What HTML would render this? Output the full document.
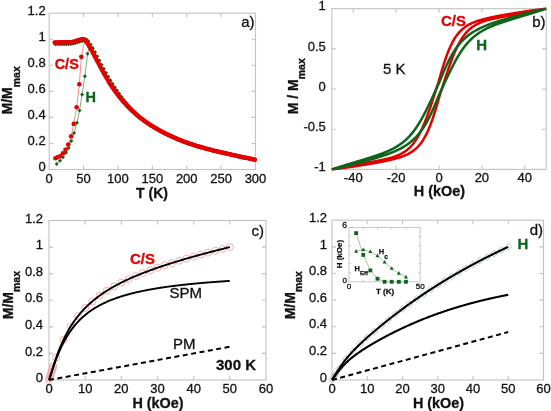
<!DOCTYPE html>
<html><head><meta charset="utf-8"><style>
html,body{margin:0;padding:0;background:#fff;}
svg{display:block;font-family:"Liberation Sans", sans-serif;will-change:transform;}
</style></head><body>
<svg width="551" height="411" viewBox="0 0 551 411">
<rect x="49.20" y="13.20" width="206.30" height="156.30" fill="none" stroke="#c2c2c2" stroke-width="1.1"/>
<path d="M83.58,169.50v-4M83.58,13.20v4M117.97,169.50v-4M117.97,13.20v4M152.35,169.50v-4M152.35,13.20v4M186.73,169.50v-4M186.73,13.20v4M221.12,169.50v-4M221.12,13.20v4M49.20,143.45h4M255.50,143.45h-4M49.20,117.40h4M255.50,117.40h-4M49.20,91.35h4M255.50,91.35h-4M49.20,65.30h4M255.50,65.30h-4M49.20,39.25h4M255.50,39.25h-4" stroke="#c2c2c2" stroke-width="1.1" fill="none"/>
<text x="49.20" y="182.50" font-size="13" text-anchor="middle" font-weight="normal" fill="#111" stroke="#111" stroke-width="0.3" >0</text>
<text x="83.58" y="182.50" font-size="13" text-anchor="middle" font-weight="normal" fill="#111" stroke="#111" stroke-width="0.3" >50</text>
<text x="117.97" y="182.50" font-size="13" text-anchor="middle" font-weight="normal" fill="#111" stroke="#111" stroke-width="0.3" >100</text>
<text x="152.35" y="182.50" font-size="13" text-anchor="middle" font-weight="normal" fill="#111" stroke="#111" stroke-width="0.3" >150</text>
<text x="186.73" y="182.50" font-size="13" text-anchor="middle" font-weight="normal" fill="#111" stroke="#111" stroke-width="0.3" >200</text>
<text x="221.12" y="182.50" font-size="13" text-anchor="middle" font-weight="normal" fill="#111" stroke="#111" stroke-width="0.3" >250</text>
<text x="255.50" y="182.50" font-size="13" text-anchor="middle" font-weight="normal" fill="#111" stroke="#111" stroke-width="0.3" >300</text>
<text x="45.70" y="171.20" font-size="13" text-anchor="end" font-weight="normal" fill="#111" stroke="#111" stroke-width="0.3" >0</text>
<text x="45.70" y="145.15" font-size="13" text-anchor="end" font-weight="normal" fill="#111" stroke="#111" stroke-width="0.3" >0.2</text>
<text x="45.70" y="119.10" font-size="13" text-anchor="end" font-weight="normal" fill="#111" stroke="#111" stroke-width="0.3" >0.4</text>
<text x="45.70" y="93.05" font-size="13" text-anchor="end" font-weight="normal" fill="#111" stroke="#111" stroke-width="0.3" >0.6</text>
<text x="45.70" y="67.00" font-size="13" text-anchor="end" font-weight="normal" fill="#111" stroke="#111" stroke-width="0.3" >0.8</text>
<text x="45.70" y="40.95" font-size="13" text-anchor="end" font-weight="normal" fill="#111" stroke="#111" stroke-width="0.3" >1</text>
<text x="45.70" y="14.90" font-size="13" text-anchor="end" font-weight="normal" fill="#111" stroke="#111" stroke-width="0.3" >1.2</text>
<text x="152.00" y="197.60" font-size="14" text-anchor="middle" font-weight="bold" fill="#111" stroke="#111" stroke-width="0.3" >T (K)</text>
<text x="254.50" y="26.50" font-size="15" text-anchor="end" font-weight="normal" fill="#111" stroke="#111" stroke-width="0.3" >a)</text>
<text transform="translate(12,114.5) rotate(-90)" font-size="14" font-weight="bold" fill="#111" stroke="#111" stroke-width="0.3">M/M<tspan font-size="10.5" dy="7.5">max</tspan></text>
<path d="M55.39,42.10l2.1,2.1l-2.1,2.1l-2.1,-2.1zM57.59,42.10l2.1,2.1l-2.1,2.1l-2.1,-2.1zM59.79,42.10l2.1,2.1l-2.1,2.1l-2.1,-2.1zM61.99,42.10l2.1,2.1l-2.1,2.1l-2.1,-2.1zM64.19,42.09l2.1,2.1l-2.1,2.1l-2.1,-2.1zM66.39,42.06l2.1,2.1l-2.1,2.1l-2.1,-2.1zM68.59,41.98l2.1,2.1l-2.1,2.1l-2.1,-2.1zM70.79,41.82l2.1,2.1l-2.1,2.1l-2.1,-2.1zM72.99,41.50l2.1,2.1l-2.1,2.1l-2.1,-2.1zM75.19,40.99l2.1,2.1l-2.1,2.1l-2.1,-2.1zM77.39,40.32l2.1,2.1l-2.1,2.1l-2.1,-2.1zM79.59,39.62l2.1,2.1l-2.1,2.1l-2.1,-2.1zM81.80,39.12l2.1,2.1l-2.1,2.1l-2.1,-2.1zM84.00,37.15l2.1,2.1l-2.1,2.1l-2.1,-2.1zM86.20,37.22l2.1,2.1l-2.1,2.1l-2.1,-2.1zM88.40,39.27l2.1,2.1l-2.1,2.1l-2.1,-2.1zM90.60,42.38l2.1,2.1l-2.1,2.1l-2.1,-2.1zM92.80,46.07l2.1,2.1l-2.1,2.1l-2.1,-2.1zM95.00,50.08l2.1,2.1l-2.1,2.1l-2.1,-2.1zM97.20,54.25l2.1,2.1l-2.1,2.1l-2.1,-2.1zM99.40,58.47l2.1,2.1l-2.1,2.1l-2.1,-2.1zM101.60,62.66l2.1,2.1l-2.1,2.1l-2.1,-2.1zM103.80,66.77l2.1,2.1l-2.1,2.1l-2.1,-2.1zM106.00,70.76l2.1,2.1l-2.1,2.1l-2.1,-2.1zM108.20,74.61l2.1,2.1l-2.1,2.1l-2.1,-2.1zM110.40,78.29l2.1,2.1l-2.1,2.1l-2.1,-2.1zM112.60,81.81l2.1,2.1l-2.1,2.1l-2.1,-2.1zM114.80,85.17l2.1,2.1l-2.1,2.1l-2.1,-2.1zM117.00,88.36l2.1,2.1l-2.1,2.1l-2.1,-2.1zM119.20,91.53l2.1,2.1l-2.1,2.1l-2.1,-2.1zM121.40,94.64l2.1,2.1l-2.1,2.1l-2.1,-2.1zM123.61,97.58l2.1,2.1l-2.1,2.1l-2.1,-2.1zM125.81,100.35l2.1,2.1l-2.1,2.1l-2.1,-2.1zM128.01,102.97l2.1,2.1l-2.1,2.1l-2.1,-2.1zM130.21,105.45l2.1,2.1l-2.1,2.1l-2.1,-2.1zM132.41,107.79l2.1,2.1l-2.1,2.1l-2.1,-2.1zM134.61,110.02l2.1,2.1l-2.1,2.1l-2.1,-2.1zM136.81,112.12l2.1,2.1l-2.1,2.1l-2.1,-2.1zM139.01,114.13l2.1,2.1l-2.1,2.1l-2.1,-2.1zM141.21,116.03l2.1,2.1l-2.1,2.1l-2.1,-2.1zM143.41,117.85l2.1,2.1l-2.1,2.1l-2.1,-2.1zM145.61,119.58l2.1,2.1l-2.1,2.1l-2.1,-2.1zM147.81,121.10l2.1,2.1l-2.1,2.1l-2.1,-2.1zM150.01,122.57l2.1,2.1l-2.1,2.1l-2.1,-2.1zM152.21,123.98l2.1,2.1l-2.1,2.1l-2.1,-2.1zM154.41,125.33l2.1,2.1l-2.1,2.1l-2.1,-2.1zM156.61,126.64l2.1,2.1l-2.1,2.1l-2.1,-2.1zM158.81,127.90l2.1,2.1l-2.1,2.1l-2.1,-2.1zM161.01,129.11l2.1,2.1l-2.1,2.1l-2.1,-2.1zM163.22,130.28l2.1,2.1l-2.1,2.1l-2.1,-2.1zM165.42,131.41l2.1,2.1l-2.1,2.1l-2.1,-2.1zM167.62,132.50l2.1,2.1l-2.1,2.1l-2.1,-2.1zM169.82,133.55l2.1,2.1l-2.1,2.1l-2.1,-2.1zM172.02,134.57l2.1,2.1l-2.1,2.1l-2.1,-2.1zM174.22,135.55l2.1,2.1l-2.1,2.1l-2.1,-2.1zM176.42,136.49l2.1,2.1l-2.1,2.1l-2.1,-2.1zM178.62,137.41l2.1,2.1l-2.1,2.1l-2.1,-2.1zM180.82,138.29l2.1,2.1l-2.1,2.1l-2.1,-2.1zM183.02,139.14l2.1,2.1l-2.1,2.1l-2.1,-2.1zM185.22,139.96l2.1,2.1l-2.1,2.1l-2.1,-2.1zM187.42,140.75l2.1,2.1l-2.1,2.1l-2.1,-2.1zM189.62,141.51l2.1,2.1l-2.1,2.1l-2.1,-2.1zM191.82,142.25l2.1,2.1l-2.1,2.1l-2.1,-2.1zM194.02,142.96l2.1,2.1l-2.1,2.1l-2.1,-2.1zM196.22,143.65l2.1,2.1l-2.1,2.1l-2.1,-2.1zM198.42,144.32l2.1,2.1l-2.1,2.1l-2.1,-2.1zM200.62,144.96l2.1,2.1l-2.1,2.1l-2.1,-2.1zM202.82,145.59l2.1,2.1l-2.1,2.1l-2.1,-2.1zM205.03,146.20l2.1,2.1l-2.1,2.1l-2.1,-2.1zM207.23,146.79l2.1,2.1l-2.1,2.1l-2.1,-2.1zM209.43,147.37l2.1,2.1l-2.1,2.1l-2.1,-2.1zM211.63,147.93l2.1,2.1l-2.1,2.1l-2.1,-2.1zM213.83,148.48l2.1,2.1l-2.1,2.1l-2.1,-2.1zM216.03,149.02l2.1,2.1l-2.1,2.1l-2.1,-2.1zM218.23,149.55l2.1,2.1l-2.1,2.1l-2.1,-2.1zM220.43,150.07l2.1,2.1l-2.1,2.1l-2.1,-2.1zM222.63,150.59l2.1,2.1l-2.1,2.1l-2.1,-2.1zM224.83,151.10l2.1,2.1l-2.1,2.1l-2.1,-2.1zM227.03,151.60l2.1,2.1l-2.1,2.1l-2.1,-2.1zM229.23,152.09l2.1,2.1l-2.1,2.1l-2.1,-2.1zM231.43,152.58l2.1,2.1l-2.1,2.1l-2.1,-2.1zM233.63,153.07l2.1,2.1l-2.1,2.1l-2.1,-2.1zM235.83,153.55l2.1,2.1l-2.1,2.1l-2.1,-2.1zM238.03,154.03l2.1,2.1l-2.1,2.1l-2.1,-2.1zM240.23,154.51l2.1,2.1l-2.1,2.1l-2.1,-2.1zM242.43,154.98l2.1,2.1l-2.1,2.1l-2.1,-2.1zM244.63,155.45l2.1,2.1l-2.1,2.1l-2.1,-2.1zM246.84,155.91l2.1,2.1l-2.1,2.1l-2.1,-2.1zM249.04,156.37l2.1,2.1l-2.1,2.1l-2.1,-2.1zM251.24,156.83l2.1,2.1l-2.1,2.1l-2.1,-2.1zM253.44,157.28l2.1,2.1l-2.1,2.1l-2.1,-2.1z" fill="#0d641b"/>
<path d="M55.46,158.30 L57.45,157.26 L60.00,156.21 L62.88,153.35 L65.50,149.83 L68.18,144.49 L71.14,136.29 L73.75,123.91 L76.64,107.24 L79.32,84.19 L81.38,56.83 L84.96,39.25" stroke="#f07070" stroke-width="0.8" fill="none"/>
<path d="M56.70,163.90 L60.00,160.64 L62.95,157.26 L65.91,152.83 L68.59,148.01 L71.34,141.11 L74.02,132.90 L76.98,122.87 L79.53,110.50 L82.07,94.61 L84.89,76.24 L87.57,53.84 L90.46,43.16" stroke="#5a9a5a" stroke-width="0.8" fill="none"/>
<path d="M56.70,161.90l2,2l-2,2l-2,-2zM60.00,158.64l2,2l-2,2l-2,-2zM62.95,155.26l2,2l-2,2l-2,-2zM65.91,150.83l2,2l-2,2l-2,-2zM68.59,146.01l2,2l-2,2l-2,-2zM71.34,139.11l2,2l-2,2l-2,-2zM74.02,130.90l2,2l-2,2l-2,-2zM76.98,120.87l2,2l-2,2l-2,-2zM79.53,108.50l2,2l-2,2l-2,-2zM82.07,92.61l2,2l-2,2l-2,-2zM84.89,74.24l2,2l-2,2l-2,-2zM87.57,51.84l2,2l-2,2l-2,-2z" fill="#0d641b"/>
<g fill="#e20000"><circle cx="54.70" cy="42.38" r="2.25"/><circle cx="55.80" cy="42.38" r="2.25"/><circle cx="56.90" cy="42.38" r="2.25"/><circle cx="58.00" cy="42.38" r="2.25"/><circle cx="59.10" cy="42.38" r="2.25"/><circle cx="60.20" cy="42.37" r="2.25"/><circle cx="61.30" cy="42.37" r="2.25"/><circle cx="62.40" cy="42.37" r="2.25"/><circle cx="63.50" cy="42.37" r="2.25"/><circle cx="64.60" cy="42.36" r="2.25"/><circle cx="65.70" cy="42.35" r="2.25"/><circle cx="66.80" cy="42.33" r="2.25"/><circle cx="67.90" cy="42.29" r="2.25"/><circle cx="69.00" cy="42.24" r="2.25"/><circle cx="70.11" cy="42.16" r="2.25"/><circle cx="71.21" cy="42.05" r="2.25"/><circle cx="72.31" cy="41.89" r="2.25"/><circle cx="73.41" cy="41.69" r="2.25"/><circle cx="74.51" cy="41.44" r="2.25"/><circle cx="75.61" cy="41.15" r="2.25"/><circle cx="76.71" cy="40.82" r="2.25"/><circle cx="77.81" cy="40.46" r="2.25"/><circle cx="78.91" cy="40.11" r="2.25"/><circle cx="80.01" cy="39.79" r="2.25"/><circle cx="81.11" cy="39.52" r="2.25"/><circle cx="82.21" cy="39.34" r="2.25"/><circle cx="83.31" cy="39.25" r="2.25"/><circle cx="84.41" cy="39.73" r="2.25"/><circle cx="85.51" cy="40.80" r="2.25"/><circle cx="86.61" cy="42.16" r="2.25"/><circle cx="87.71" cy="43.74" r="2.25"/><circle cx="88.81" cy="45.47" r="2.25"/><circle cx="89.91" cy="47.33" r="2.25"/><circle cx="91.01" cy="49.27" r="2.25"/><circle cx="92.11" cy="51.28" r="2.25"/><circle cx="93.21" cy="53.34" r="2.25"/><circle cx="94.31" cy="55.43" r="2.25"/><circle cx="95.41" cy="57.53" r="2.25"/><circle cx="96.51" cy="59.64" r="2.25"/><circle cx="97.61" cy="61.75" r="2.25"/><circle cx="98.71" cy="63.85" r="2.25"/><circle cx="99.81" cy="65.93" r="2.25"/><circle cx="100.91" cy="67.98" r="2.25"/><circle cx="102.01" cy="70.01" r="2.25"/><circle cx="103.11" cy="72.00" r="2.25"/><circle cx="104.21" cy="73.96" r="2.25"/><circle cx="105.31" cy="75.88" r="2.25"/><circle cx="106.41" cy="77.76" r="2.25"/><circle cx="107.51" cy="79.60" r="2.25"/><circle cx="108.61" cy="81.40" r="2.25"/><circle cx="109.71" cy="83.16" r="2.25"/><circle cx="110.81" cy="84.88" r="2.25"/><circle cx="111.92" cy="86.55" r="2.25"/><circle cx="113.02" cy="88.18" r="2.25"/><circle cx="114.12" cy="89.77" r="2.25"/><circle cx="115.22" cy="91.33" r="2.25"/><circle cx="116.32" cy="92.84" r="2.25"/><circle cx="117.42" cy="94.31" r="2.25"/><circle cx="118.52" cy="95.74" r="2.25"/><circle cx="119.62" cy="97.14" r="2.25"/><circle cx="120.72" cy="98.50" r="2.25"/><circle cx="121.82" cy="99.83" r="2.25"/><circle cx="122.92" cy="101.12" r="2.25"/><circle cx="124.02" cy="102.37" r="2.25"/><circle cx="125.12" cy="103.60" r="2.25"/><circle cx="126.22" cy="104.79" r="2.25"/><circle cx="127.32" cy="105.96" r="2.25"/><circle cx="128.42" cy="107.09" r="2.25"/><circle cx="129.52" cy="108.20" r="2.25"/><circle cx="130.62" cy="109.27" r="2.25"/><circle cx="131.72" cy="110.33" r="2.25"/><circle cx="132.82" cy="111.35" r="2.25"/><circle cx="133.92" cy="112.35" r="2.25"/><circle cx="135.02" cy="113.33" r="2.25"/><circle cx="136.12" cy="114.28" r="2.25"/><circle cx="137.22" cy="115.22" r="2.25"/><circle cx="138.32" cy="116.13" r="2.25"/><circle cx="139.42" cy="117.02" r="2.25"/><circle cx="140.52" cy="117.89" r="2.25"/><circle cx="141.62" cy="118.74" r="2.25"/><circle cx="142.72" cy="119.57" r="2.25"/><circle cx="143.82" cy="120.39" r="2.25"/><circle cx="144.92" cy="121.19" r="2.25"/><circle cx="146.02" cy="121.97" r="2.25"/><circle cx="147.12" cy="122.73" r="2.25"/><circle cx="148.22" cy="123.48" r="2.25"/><circle cx="149.32" cy="124.22" r="2.25"/><circle cx="150.42" cy="124.94" r="2.25"/><circle cx="151.52" cy="125.64" r="2.25"/><circle cx="152.63" cy="126.34" r="2.25"/><circle cx="153.73" cy="127.02" r="2.25"/><circle cx="154.83" cy="127.68" r="2.25"/><circle cx="155.93" cy="128.34" r="2.25"/><circle cx="157.03" cy="128.98" r="2.25"/><circle cx="158.13" cy="129.61" r="2.25"/><circle cx="159.23" cy="130.23" r="2.25"/><circle cx="160.33" cy="130.84" r="2.25"/><circle cx="161.43" cy="131.43" r="2.25"/><circle cx="162.53" cy="132.02" r="2.25"/><circle cx="163.63" cy="132.59" r="2.25"/><circle cx="164.73" cy="133.16" r="2.25"/><circle cx="165.83" cy="133.72" r="2.25"/><circle cx="166.93" cy="134.26" r="2.25"/><circle cx="168.03" cy="134.80" r="2.25"/><circle cx="169.13" cy="135.33" r="2.25"/><circle cx="170.23" cy="135.84" r="2.25"/><circle cx="171.33" cy="136.35" r="2.25"/><circle cx="172.43" cy="136.85" r="2.25"/><circle cx="173.53" cy="137.34" r="2.25"/><circle cx="174.63" cy="137.83" r="2.25"/><circle cx="175.73" cy="138.30" r="2.25"/><circle cx="176.83" cy="138.77" r="2.25"/><circle cx="177.93" cy="139.22" r="2.25"/><circle cx="179.03" cy="139.67" r="2.25"/><circle cx="180.13" cy="140.11" r="2.25"/><circle cx="181.23" cy="140.55" r="2.25"/><circle cx="182.33" cy="140.97" r="2.25"/><circle cx="183.43" cy="141.39" r="2.25"/><circle cx="184.53" cy="141.80" r="2.25"/><circle cx="185.63" cy="142.21" r="2.25"/><circle cx="186.73" cy="142.60" r="2.25"/><circle cx="187.83" cy="142.99" r="2.25"/><circle cx="188.93" cy="143.38" r="2.25"/><circle cx="190.03" cy="143.75" r="2.25"/><circle cx="191.13" cy="144.12" r="2.25"/><circle cx="192.23" cy="144.49" r="2.25"/><circle cx="193.33" cy="144.84" r="2.25"/><circle cx="194.44" cy="145.19" r="2.25"/><circle cx="195.54" cy="145.54" r="2.25"/><circle cx="196.64" cy="145.88" r="2.25"/><circle cx="197.74" cy="146.21" r="2.25"/><circle cx="198.84" cy="146.54" r="2.25"/><circle cx="199.94" cy="146.86" r="2.25"/><circle cx="201.04" cy="147.18" r="2.25"/><circle cx="202.14" cy="147.50" r="2.25"/><circle cx="203.24" cy="147.80" r="2.25"/><circle cx="204.34" cy="148.11" r="2.25"/><circle cx="205.44" cy="148.41" r="2.25"/><circle cx="206.54" cy="148.71" r="2.25"/><circle cx="207.64" cy="149.00" r="2.25"/><circle cx="208.74" cy="149.29" r="2.25"/><circle cx="209.84" cy="149.57" r="2.25"/><circle cx="210.94" cy="149.85" r="2.25"/><circle cx="212.04" cy="150.13" r="2.25"/><circle cx="213.14" cy="150.41" r="2.25"/><circle cx="214.24" cy="150.68" r="2.25"/><circle cx="215.34" cy="150.95" r="2.25"/><circle cx="216.44" cy="151.22" r="2.25"/><circle cx="217.54" cy="151.49" r="2.25"/><circle cx="218.64" cy="151.75" r="2.25"/><circle cx="219.74" cy="152.01" r="2.25"/><circle cx="220.84" cy="152.27" r="2.25"/><circle cx="221.94" cy="152.53" r="2.25"/><circle cx="223.04" cy="152.78" r="2.25"/><circle cx="224.14" cy="153.04" r="2.25"/><circle cx="225.24" cy="153.29" r="2.25"/><circle cx="226.34" cy="153.54" r="2.25"/><circle cx="227.44" cy="153.79" r="2.25"/><circle cx="228.54" cy="154.04" r="2.25"/><circle cx="229.64" cy="154.29" r="2.25"/><circle cx="230.74" cy="154.53" r="2.25"/><circle cx="231.84" cy="154.78" r="2.25"/><circle cx="232.94" cy="155.02" r="2.25"/><circle cx="234.04" cy="155.26" r="2.25"/><circle cx="235.15" cy="155.50" r="2.25"/><circle cx="236.25" cy="155.74" r="2.25"/><circle cx="237.35" cy="155.98" r="2.25"/><circle cx="238.45" cy="156.22" r="2.25"/><circle cx="239.55" cy="156.46" r="2.25"/><circle cx="240.65" cy="156.70" r="2.25"/><circle cx="241.75" cy="156.93" r="2.25"/><circle cx="242.85" cy="157.17" r="2.25"/><circle cx="243.95" cy="157.40" r="2.25"/><circle cx="245.05" cy="157.63" r="2.25"/><circle cx="246.15" cy="157.87" r="2.25"/><circle cx="247.25" cy="158.10" r="2.25"/><circle cx="248.35" cy="158.33" r="2.25"/><circle cx="249.45" cy="158.56" r="2.25"/><circle cx="250.55" cy="158.79" r="2.25"/><circle cx="251.65" cy="159.02" r="2.25"/><circle cx="252.75" cy="159.24" r="2.25"/><circle cx="253.85" cy="159.47" r="2.25"/><circle cx="254.95" cy="159.70" r="2.25"/><circle cx="55.46" cy="158.30" r="2.3"/><circle cx="57.45" cy="157.26" r="2.3"/><circle cx="60.00" cy="156.21" r="2.3"/><circle cx="62.88" cy="153.35" r="2.3"/><circle cx="65.50" cy="149.83" r="2.3"/><circle cx="68.18" cy="144.49" r="2.3"/><circle cx="71.14" cy="136.29" r="2.3"/><circle cx="73.75" cy="123.91" r="2.3"/><circle cx="76.64" cy="107.24" r="2.3"/><circle cx="79.32" cy="84.19" r="2.3"/><circle cx="81.38" cy="56.83" r="2.3"/></g>
<text x="78.80" y="69.00" font-size="14.5" text-anchor="end" font-weight="bold" fill="#e20000" stroke="#e20000" stroke-width="0.3" >C/S</text>
<text x="85.50" y="102.00" font-size="14.5" text-anchor="start" font-weight="bold" fill="#0d641b" stroke="#0d641b" stroke-width="0.3" >H</text>
<rect x="331.80" y="8.70" width="214.40" height="160.70" fill="none" stroke="#c2c2c2" stroke-width="1.1"/>
<path d="M353.24,169.40v-4M353.24,8.70v4M396.12,169.40v-4M396.12,8.70v4M439.00,169.40v-4M439.00,8.70v4M481.88,169.40v-4M481.88,8.70v4M524.76,169.40v-4M524.76,8.70v4M331.80,129.22h4M546.20,129.22h-4M331.80,89.05h4M546.20,89.05h-4M331.80,48.87h4M546.20,48.87h-4" stroke="#c2c2c2" stroke-width="1.1" fill="none"/>
<text x="353.24" y="182.20" font-size="13" text-anchor="middle" font-weight="normal" fill="#111" stroke="#111" stroke-width="0.3" >-40</text>
<text x="396.12" y="182.20" font-size="13" text-anchor="middle" font-weight="normal" fill="#111" stroke="#111" stroke-width="0.3" >-20</text>
<text x="439.00" y="182.20" font-size="13" text-anchor="middle" font-weight="normal" fill="#111" stroke="#111" stroke-width="0.3" >0</text>
<text x="481.88" y="182.20" font-size="13" text-anchor="middle" font-weight="normal" fill="#111" stroke="#111" stroke-width="0.3" >20</text>
<text x="524.76" y="182.20" font-size="13" text-anchor="middle" font-weight="normal" fill="#111" stroke="#111" stroke-width="0.3" >40</text>
<text x="325.80" y="10.40" font-size="13" text-anchor="end" font-weight="normal" fill="#111" stroke="#111" stroke-width="0.3" >1</text>
<text x="325.80" y="50.57" font-size="13" text-anchor="end" font-weight="normal" fill="#111" stroke="#111" stroke-width="0.3" >0.5</text>
<text x="325.80" y="90.75" font-size="13" text-anchor="end" font-weight="normal" fill="#111" stroke="#111" stroke-width="0.3" >0</text>
<text x="325.80" y="130.92" font-size="13" text-anchor="end" font-weight="normal" fill="#111" stroke="#111" stroke-width="0.3" >-0.5</text>
<text x="325.80" y="171.10" font-size="13" text-anchor="end" font-weight="normal" fill="#111" stroke="#111" stroke-width="0.3" >-1</text>
<text x="439.40" y="196.00" font-size="14.4" text-anchor="middle" font-weight="bold" fill="#111" stroke="#111" stroke-width="0.3" >H (kOe)</text>
<text x="545.50" y="26.50" font-size="15" text-anchor="end" font-weight="normal" fill="#111" stroke="#111" stroke-width="0.3" >b)</text>
<text transform="translate(297.5,114.3) rotate(-90)" font-size="14" font-weight="bold" fill="#111" stroke="#111" stroke-width="0.3">M / M<tspan font-size="10.5" dy="7">max</tspan></text>
<text x="383.00" y="73.50" font-size="15" text-anchor="start" font-weight="normal" fill="#111" stroke="#111" stroke-width="0.3" >5 K</text>
<text x="441.00" y="26.00" font-size="15" text-anchor="start" font-weight="bold" fill="#e20000" stroke="#e20000" stroke-width="0.3" >C/S</text>
<text x="476.20" y="49.80" font-size="15" text-anchor="start" font-weight="bold" fill="#0d641b" stroke="#0d641b" stroke-width="0.3" >H</text>
<path d="M331.80,169.40 L332.23,169.31 L332.66,169.22 L333.09,169.13 L333.52,169.04 L333.95,168.95 L334.38,168.86 L334.81,168.77 L335.24,168.68 L335.67,168.59 L336.10,168.51 L336.53,168.42 L336.96,168.33 L337.39,168.24 L337.82,168.15 L338.24,168.06 L338.67,167.98 L339.10,167.89 L339.53,167.80 L339.96,167.72 L340.39,167.63 L340.82,167.54 L341.25,167.46 L341.68,167.37 L342.11,167.28 L342.54,167.20 L342.97,167.11 L343.40,167.03 L343.83,166.94 L344.26,166.86 L344.69,166.78 L345.12,166.69 L345.55,166.61 L345.98,166.53 L346.41,166.44 L346.84,166.36 L347.27,166.28 L347.70,166.20 L348.13,166.12 L348.56,166.04 L348.99,165.96 L349.42,165.88 L349.85,165.80 L350.28,165.72 L350.71,165.64 L351.13,165.56 L351.56,165.49 L351.99,165.41 L352.42,165.33 L352.85,165.26 L353.28,165.18 L353.71,165.10 L354.14,165.03 L354.57,164.95 L355.00,164.88 L355.43,164.80 L355.86,164.73 L356.29,164.65 L356.72,164.58 L357.15,164.50 L357.58,164.43 L358.01,164.35 L358.44,164.27 L358.87,164.20 L359.30,164.12 L359.73,164.05 L360.16,163.97 L360.59,163.89 L361.02,163.82 L361.45,163.74 L361.88,163.67 L362.31,163.59 L362.74,163.51 L363.17,163.44 L363.59,163.36 L364.02,163.28 L364.45,163.21 L364.88,163.13 L365.31,163.05 L365.74,162.98 L366.17,162.90 L366.60,162.82 L367.03,162.74 L367.46,162.67 L367.89,162.59 L368.32,162.51 L368.75,162.43 L369.18,162.35 L369.61,162.27 L370.04,162.19 L370.47,162.12 L370.90,162.04 L371.33,161.96 L371.76,161.88 L372.19,161.80 L372.62,161.72 L373.05,161.63 L373.48,161.55 L373.91,161.47 L374.34,161.39 L374.77,161.31 L375.20,161.22 L375.63,161.14 L376.05,161.06 L376.48,160.98 L376.91,160.89 L377.34,160.81 L377.77,160.73 L378.20,160.64 L378.63,160.56 L379.06,160.47 L379.49,160.39 L379.92,160.30 L380.35,160.22 L380.78,160.13 L381.21,160.05 L381.64,159.96 L382.07,159.87 L382.50,159.78 L382.93,159.69 L383.36,159.60 L383.79,159.51 L384.22,159.42 L384.65,159.32 L385.08,159.23 L385.51,159.13 L385.94,159.04 L386.37,158.94 L386.80,158.84 L387.23,158.74 L387.66,158.63 L388.09,158.53 L388.52,158.42 L388.94,158.31 L389.37,158.20 L389.80,158.09 L390.23,157.97 L390.66,157.86 L391.09,157.74 L391.52,157.61 L391.95,157.49 L392.38,157.36 L392.81,157.23 L393.24,157.09 L393.67,156.95 L394.10,156.81 L394.53,156.66 L394.96,156.51 L395.39,156.36 L395.82,156.20 L396.25,156.03 L396.68,155.86 L397.11,155.69 L397.54,155.51 L397.97,155.33 L398.40,155.14 L398.83,154.95 L399.26,154.75 L399.69,154.55 L400.12,154.34 L400.55,154.13 L400.98,153.90 L401.40,153.68 L401.83,153.44 L402.26,153.20 L402.69,152.95 L403.12,152.70 L403.55,152.44 L403.98,152.16 L404.41,151.88 L404.84,151.60 L405.27,151.30 L405.70,150.99 L406.13,150.68 L406.56,150.35 L406.99,150.01 L407.42,149.67 L407.85,149.31 L408.28,148.94 L408.71,148.56 L409.14,148.16 L409.57,147.76 L410.00,147.34 L410.43,146.90 L410.86,146.45 L411.29,145.99 L411.72,145.52 L412.15,145.02 L412.58,144.52 L413.01,143.99 L413.44,143.45 L413.86,142.90 L414.29,142.32 L414.72,141.73 L415.15,141.12 L415.58,140.49 L416.01,139.84 L416.44,139.17 L416.87,138.48 L417.30,137.77 L417.73,137.04 L418.16,136.29 L418.59,135.52 L419.02,134.74 L419.45,133.93 L419.88,133.10 L420.31,132.25 L420.74,131.39 L421.17,130.50 L421.60,129.59 L422.03,128.67 L422.46,127.72 L422.89,126.76 L423.32,125.77 L423.75,124.77 L424.18,123.74 L424.61,122.70 L425.04,121.63 L425.47,120.55 L425.90,119.45 L426.33,118.34 L426.75,117.20 L427.18,116.05 L427.61,114.88 L428.04,113.69 L428.47,112.49 L428.90,111.28 L429.33,110.05 L429.76,108.80 L430.19,107.55 L430.62,106.28 L431.05,105.00 L431.48,103.71 L431.91,102.41 L432.34,101.10 L432.77,99.78 L433.20,98.46 L433.63,97.12 L434.06,95.79 L434.49,94.45 L434.92,93.10 L435.35,91.76 L435.78,90.41 L436.21,89.06 L436.64,87.71 L437.07,86.37 L437.50,85.02 L437.93,83.68 L438.36,82.35 L438.79,81.02 L439.21,79.59 L439.64,78.06 L440.07,76.55 L440.50,75.05 L440.93,73.56 L441.36,72.09 L441.79,70.64 L442.22,69.20 L442.65,67.79 L443.08,66.39 L443.51,65.02 L443.94,63.67 L444.37,62.34 L444.80,61.04 L445.23,59.76 L445.66,58.51 L446.09,57.29 L446.52,56.09 L446.95,54.92 L447.38,53.77 L447.81,52.66 L448.24,51.57 L448.67,50.51 L449.10,49.48 L449.53,48.47 L449.96,47.49 L450.39,46.54 L450.82,45.62 L451.25,44.72 L451.67,43.85 L452.10,43.00 L452.53,42.18 L452.96,41.39 L453.39,40.62 L453.82,39.87 L454.25,39.15 L454.68,38.45 L455.11,37.78 L455.54,37.12 L455.97,36.49 L456.40,35.88 L456.83,35.29 L457.26,34.71 L457.69,34.16 L458.12,33.63 L458.55,33.11 L458.98,32.61 L459.41,32.13 L459.84,31.67 L460.27,31.22 L460.70,30.78 L461.13,30.36 L461.56,29.96 L461.99,29.56 L462.42,29.18 L462.85,28.81 L463.28,28.45 L463.71,28.10 L464.14,27.76 L464.56,27.44 L464.99,27.12 L465.42,26.81 L465.85,26.52 L466.28,26.23 L466.71,25.95 L467.14,25.68 L467.57,25.41 L468.00,25.16 L468.43,24.91 L468.86,24.67 L469.29,24.43 L469.72,24.21 L470.15,23.98 L470.58,23.77 L471.01,23.56 L471.44,23.36 L471.87,23.16 L472.30,22.97 L472.73,22.78 L473.16,22.60 L473.59,22.42 L474.02,22.24 L474.45,22.07 L474.88,21.91 L475.31,21.75 L475.74,21.59 L476.17,21.44 L476.60,21.29 L477.02,21.14 L477.45,20.99 L477.88,20.85 L478.31,20.72 L478.74,20.58 L479.17,20.45 L479.60,20.32 L480.03,20.19 L480.46,20.07 L480.89,19.95 L481.32,19.83 L481.75,19.71 L482.18,19.59 L482.61,19.48 L483.04,19.36 L483.47,19.25 L483.90,19.14 L484.33,19.03 L484.76,18.92 L485.19,18.81 L485.62,18.70 L486.05,18.60 L486.48,18.49 L486.91,18.39 L487.34,18.29 L487.77,18.18 L488.20,18.08 L488.63,17.98 L489.06,17.89 L489.48,17.79 L489.91,17.69 L490.34,17.59 L490.77,17.50 L491.20,17.40 L491.63,17.31 L492.06,17.22 L492.49,17.12 L492.92,17.03 L493.35,16.94 L493.78,16.85 L494.21,16.76 L494.64,16.67 L495.07,16.58 L495.50,16.50 L495.93,16.41 L496.36,16.32 L496.79,16.24 L497.22,16.15 L497.65,16.07 L498.08,15.99 L498.51,15.90 L498.94,15.82 L499.37,15.74 L499.80,15.66 L500.23,15.58 L500.66,15.50 L501.09,15.42 L501.52,15.34 L501.95,15.27 L502.37,15.19 L502.80,15.11 L503.23,15.04 L503.66,14.96 L504.09,14.89 L504.52,14.81 L504.95,14.74 L505.38,14.67 L505.81,14.59 L506.24,14.52 L506.67,14.45 L507.10,14.38 L507.53,14.30 L507.96,14.23 L508.39,14.16 L508.82,14.09 L509.25,14.02 L509.68,13.95 L510.11,13.87 L510.54,13.80 L510.97,13.73 L511.40,13.66 L511.83,13.59 L512.26,13.52 L512.69,13.45 L513.12,13.38 L513.55,13.31 L513.98,13.24 L514.41,13.17 L514.83,13.10 L515.26,13.04 L515.69,12.97 L516.12,12.90 L516.55,12.83 L516.98,12.76 L517.41,12.69 L517.84,12.62 L518.27,12.56 L518.70,12.49 L519.13,12.42 L519.56,12.35 L519.99,12.28 L520.42,12.22 L520.85,12.15 L521.28,12.08 L521.71,12.01 L522.14,11.95 L522.57,11.88 L523.00,11.81 L523.43,11.74 L523.86,11.68 L524.29,11.61 L524.72,11.54 L525.15,11.48 L525.58,11.41 L526.01,11.34 L526.44,11.28 L526.87,11.21 L527.29,11.15 L527.72,11.09 L528.15,11.02 L528.58,10.96 L529.01,10.90 L529.44,10.84 L529.87,10.78 L530.30,10.72 L530.73,10.66 L531.16,10.60 L531.59,10.54 L532.02,10.48 L532.45,10.42 L532.88,10.36 L533.31,10.30 L533.74,10.25 L534.17,10.19 L534.60,10.13 L535.03,10.08 L535.46,10.02 L535.89,9.97 L536.32,9.91 L536.75,9.86 L537.18,9.80 L537.61,9.75 L538.04,9.69 L538.47,9.64 L538.90,9.59 L539.33,9.53 L539.76,9.48 L540.18,9.43 L540.61,9.37 L541.04,9.32 L541.47,9.27 L541.90,9.22 L542.33,9.16 L542.76,9.11 L543.19,9.06 L543.62,9.01 L544.05,8.96 L544.48,8.91 L544.91,8.86 L545.34,8.80 L545.77,8.75 L546.20,8.70 M331.80,169.40 L332.23,169.35 L332.66,169.30 L333.09,169.24 L333.52,169.19 L333.95,169.14 L334.38,169.09 L334.81,169.04 L335.24,168.99 L335.67,168.94 L336.10,168.88 L336.53,168.83 L336.96,168.78 L337.39,168.73 L337.82,168.67 L338.24,168.62 L338.67,168.57 L339.10,168.51 L339.53,168.46 L339.96,168.41 L340.39,168.35 L340.82,168.30 L341.25,168.24 L341.68,168.19 L342.11,168.13 L342.54,168.08 L342.97,168.02 L343.40,167.97 L343.83,167.91 L344.26,167.85 L344.69,167.80 L345.12,167.74 L345.55,167.68 L345.98,167.62 L346.41,167.56 L346.84,167.50 L347.27,167.44 L347.70,167.38 L348.13,167.32 L348.56,167.26 L348.99,167.20 L349.42,167.14 L349.85,167.08 L350.28,167.01 L350.71,166.95 L351.13,166.89 L351.56,166.82 L351.99,166.76 L352.42,166.69 L352.85,166.62 L353.28,166.56 L353.71,166.49 L354.14,166.42 L354.57,166.36 L355.00,166.29 L355.43,166.22 L355.86,166.15 L356.29,166.09 L356.72,166.02 L357.15,165.95 L357.58,165.88 L358.01,165.82 L358.44,165.75 L358.87,165.68 L359.30,165.61 L359.73,165.54 L360.16,165.48 L360.59,165.41 L361.02,165.34 L361.45,165.27 L361.88,165.20 L362.31,165.13 L362.74,165.06 L363.17,165.00 L363.59,164.93 L364.02,164.86 L364.45,164.79 L364.88,164.72 L365.31,164.65 L365.74,164.58 L366.17,164.51 L366.60,164.44 L367.03,164.37 L367.46,164.30 L367.89,164.23 L368.32,164.15 L368.75,164.08 L369.18,164.01 L369.61,163.94 L370.04,163.87 L370.47,163.80 L370.90,163.72 L371.33,163.65 L371.76,163.58 L372.19,163.51 L372.62,163.43 L373.05,163.36 L373.48,163.29 L373.91,163.21 L374.34,163.14 L374.77,163.06 L375.20,162.99 L375.63,162.91 L376.05,162.83 L376.48,162.76 L376.91,162.68 L377.34,162.60 L377.77,162.52 L378.20,162.44 L378.63,162.36 L379.06,162.28 L379.49,162.20 L379.92,162.11 L380.35,162.03 L380.78,161.95 L381.21,161.86 L381.64,161.78 L382.07,161.69 L382.50,161.60 L382.93,161.52 L383.36,161.43 L383.79,161.34 L384.22,161.25 L384.65,161.16 L385.08,161.07 L385.51,160.98 L385.94,160.88 L386.37,160.79 L386.80,160.70 L387.23,160.60 L387.66,160.51 L388.09,160.41 L388.52,160.31 L388.94,160.21 L389.37,160.12 L389.80,160.02 L390.23,159.92 L390.66,159.81 L391.09,159.71 L391.52,159.61 L391.95,159.50 L392.38,159.40 L392.81,159.29 L393.24,159.18 L393.67,159.07 L394.10,158.96 L394.53,158.85 L394.96,158.74 L395.39,158.62 L395.82,158.51 L396.25,158.39 L396.68,158.27 L397.11,158.15 L397.54,158.03 L397.97,157.91 L398.40,157.78 L398.83,157.65 L399.26,157.52 L399.69,157.38 L400.12,157.25 L400.55,157.11 L400.98,156.96 L401.40,156.81 L401.83,156.66 L402.26,156.51 L402.69,156.35 L403.12,156.19 L403.55,156.03 L403.98,155.86 L404.41,155.68 L404.84,155.50 L405.27,155.32 L405.70,155.13 L406.13,154.94 L406.56,154.74 L406.99,154.54 L407.42,154.33 L407.85,154.12 L408.28,153.89 L408.71,153.67 L409.14,153.43 L409.57,153.19 L410.00,152.94 L410.43,152.69 L410.86,152.42 L411.29,152.15 L411.72,151.87 L412.15,151.58 L412.58,151.29 L413.01,150.98 L413.44,150.66 L413.86,150.34 L414.29,150.00 L414.72,149.65 L415.15,149.29 L415.58,148.92 L416.01,148.54 L416.44,148.14 L416.87,147.74 L417.30,147.32 L417.73,146.88 L418.16,146.43 L418.59,145.97 L419.02,145.49 L419.45,144.99 L419.88,144.47 L420.31,143.94 L420.74,143.39 L421.17,142.81 L421.60,142.22 L422.03,141.61 L422.46,140.98 L422.89,140.32 L423.32,139.65 L423.75,138.95 L424.18,138.23 L424.61,137.48 L425.04,136.71 L425.47,135.92 L425.90,135.10 L426.33,134.25 L426.75,133.38 L427.18,132.48 L427.61,131.56 L428.04,130.61 L428.47,129.63 L428.90,128.62 L429.33,127.59 L429.76,126.53 L430.19,125.44 L430.62,124.33 L431.05,123.18 L431.48,122.01 L431.91,120.81 L432.34,119.59 L432.77,118.34 L433.20,117.06 L433.63,115.76 L434.06,114.43 L434.49,113.08 L434.92,111.71 L435.35,110.31 L435.78,108.90 L436.21,107.46 L436.64,106.01 L437.07,104.54 L437.50,103.05 L437.93,101.55 L438.36,100.04 L438.79,98.51 L439.21,97.08 L439.64,95.75 L440.07,94.42 L440.50,93.08 L440.93,91.73 L441.36,90.39 L441.79,89.04 L442.22,87.69 L442.65,86.34 L443.08,85.00 L443.51,83.65 L443.94,82.31 L444.37,80.98 L444.80,79.64 L445.23,78.32 L445.66,77.00 L446.09,75.69 L446.52,74.39 L446.95,73.10 L447.38,71.82 L447.81,70.55 L448.24,69.30 L448.67,68.05 L449.10,66.82 L449.53,65.61 L449.96,64.41 L450.39,63.22 L450.82,62.05 L451.25,60.90 L451.67,59.76 L452.10,58.65 L452.53,57.55 L452.96,56.47 L453.39,55.40 L453.82,54.36 L454.25,53.33 L454.68,52.33 L455.11,51.34 L455.54,50.38 L455.97,49.43 L456.40,48.51 L456.83,47.60 L457.26,46.71 L457.69,45.85 L458.12,45.00 L458.55,44.17 L458.98,43.36 L459.41,42.58 L459.84,41.81 L460.27,41.06 L460.70,40.33 L461.13,39.62 L461.56,38.93 L461.99,38.26 L462.42,37.61 L462.85,36.98 L463.28,36.37 L463.71,35.78 L464.14,35.20 L464.56,34.65 L464.99,34.11 L465.42,33.58 L465.85,33.08 L466.28,32.58 L466.71,32.11 L467.14,31.65 L467.57,31.20 L468.00,30.76 L468.43,30.34 L468.86,29.94 L469.29,29.54 L469.72,29.16 L470.15,28.79 L470.58,28.43 L471.01,28.09 L471.44,27.75 L471.87,27.42 L472.30,27.11 L472.73,26.80 L473.16,26.50 L473.59,26.22 L474.02,25.94 L474.45,25.66 L474.88,25.40 L475.31,25.15 L475.74,24.90 L476.17,24.66 L476.60,24.42 L477.02,24.20 L477.45,23.97 L477.88,23.76 L478.31,23.55 L478.74,23.35 L479.17,23.15 L479.60,22.96 L480.03,22.77 L480.46,22.59 L480.89,22.41 L481.32,22.24 L481.75,22.07 L482.18,21.90 L482.61,21.74 L483.04,21.59 L483.47,21.44 L483.90,21.29 L484.33,21.15 L484.76,21.01 L485.19,20.87 L485.62,20.74 L486.05,20.61 L486.48,20.49 L486.91,20.36 L487.34,20.24 L487.77,20.13 L488.20,20.01 L488.63,19.90 L489.06,19.79 L489.48,19.68 L489.91,19.57 L490.34,19.47 L490.77,19.36 L491.20,19.26 L491.63,19.16 L492.06,19.06 L492.49,18.97 L492.92,18.87 L493.35,18.78 L493.78,18.68 L494.21,18.59 L494.64,18.50 L495.07,18.41 L495.50,18.32 L495.93,18.23 L496.36,18.14 L496.79,18.05 L497.22,17.97 L497.65,17.88 L498.08,17.80 L498.51,17.71 L498.94,17.63 L499.37,17.54 L499.80,17.46 L500.23,17.37 L500.66,17.29 L501.09,17.21 L501.52,17.12 L501.95,17.04 L502.37,16.96 L502.80,16.88 L503.23,16.79 L503.66,16.71 L504.09,16.63 L504.52,16.55 L504.95,16.47 L505.38,16.38 L505.81,16.30 L506.24,16.22 L506.67,16.14 L507.10,16.06 L507.53,15.98 L507.96,15.91 L508.39,15.83 L508.82,15.75 L509.25,15.67 L509.68,15.59 L510.11,15.51 L510.54,15.43 L510.97,15.36 L511.40,15.28 L511.83,15.20 L512.26,15.12 L512.69,15.05 L513.12,14.97 L513.55,14.89 L513.98,14.82 L514.41,14.74 L514.83,14.66 L515.26,14.59 L515.69,14.51 L516.12,14.43 L516.55,14.36 L516.98,14.28 L517.41,14.21 L517.84,14.13 L518.27,14.05 L518.70,13.98 L519.13,13.90 L519.56,13.83 L519.99,13.75 L520.42,13.67 L520.85,13.60 L521.28,13.52 L521.71,13.45 L522.14,13.37 L522.57,13.30 L523.00,13.22 L523.43,13.15 L523.86,13.07 L524.29,13.00 L524.72,12.92 L525.15,12.84 L525.58,12.77 L526.01,12.69 L526.44,12.61 L526.87,12.54 L527.29,12.46 L527.72,12.38 L528.15,12.30 L528.58,12.22 L529.01,12.14 L529.44,12.06 L529.87,11.98 L530.30,11.90 L530.73,11.82 L531.16,11.74 L531.59,11.66 L532.02,11.57 L532.45,11.49 L532.88,11.41 L533.31,11.32 L533.74,11.24 L534.17,11.16 L534.60,11.07 L535.03,10.99 L535.46,10.90 L535.89,10.82 L536.32,10.73 L536.75,10.64 L537.18,10.56 L537.61,10.47 L538.04,10.38 L538.47,10.30 L538.90,10.21 L539.33,10.12 L539.76,10.04 L540.18,9.95 L540.61,9.86 L541.04,9.77 L541.47,9.68 L541.90,9.59 L542.33,9.51 L542.76,9.42 L543.19,9.33 L543.62,9.24 L544.05,9.15 L544.48,9.06 L544.91,8.97 L545.34,8.88 L545.77,8.79 L546.20,8.70" stroke="#e20000" stroke-width="2.5" fill="none"/>
<path d="M331.80,169.38 L332.23,169.25 L332.66,169.11 L333.09,168.97 L333.52,168.83 L333.95,168.70 L334.38,168.56 L334.81,168.42 L335.24,168.29 L335.67,168.15 L336.10,168.01 L336.53,167.88 L336.96,167.74 L337.39,167.61 L337.82,167.47 L338.24,167.34 L338.67,167.20 L339.10,167.06 L339.53,166.93 L339.96,166.79 L340.39,166.66 L340.82,166.52 L341.25,166.39 L341.68,166.26 L342.11,166.12 L342.54,165.99 L342.97,165.85 L343.40,165.72 L343.83,165.59 L344.26,165.45 L344.69,165.32 L345.12,165.19 L345.55,165.06 L345.98,164.92 L346.41,164.79 L346.84,164.66 L347.27,164.53 L347.70,164.40 L348.13,164.27 L348.56,164.14 L348.99,164.01 L349.42,163.88 L349.85,163.75 L350.28,163.62 L350.71,163.49 L351.13,163.36 L351.56,163.23 L351.99,163.10 L352.42,162.97 L352.85,162.84 L353.28,162.72 L353.71,162.59 L354.14,162.46 L354.57,162.33 L355.00,162.21 L355.43,162.08 L355.86,161.95 L356.29,161.82 L356.72,161.69 L357.15,161.56 L357.58,161.43 L358.01,161.30 L358.44,161.17 L358.87,161.04 L359.30,160.92 L359.73,160.79 L360.16,160.65 L360.59,160.52 L361.02,160.39 L361.45,160.26 L361.88,160.13 L362.31,160.00 L362.74,159.87 L363.17,159.74 L363.59,159.61 L364.02,159.47 L364.45,159.34 L364.88,159.21 L365.31,159.08 L365.74,158.94 L366.17,158.81 L366.60,158.68 L367.03,158.54 L367.46,158.41 L367.89,158.27 L368.32,158.14 L368.75,158.00 L369.18,157.87 L369.61,157.73 L370.04,157.59 L370.47,157.46 L370.90,157.32 L371.33,157.18 L371.76,157.04 L372.19,156.90 L372.62,156.77 L373.05,156.63 L373.48,156.49 L373.91,156.34 L374.34,156.20 L374.77,156.06 L375.20,155.92 L375.63,155.78 L376.05,155.63 L376.48,155.49 L376.91,155.34 L377.34,155.19 L377.77,155.04 L378.20,154.90 L378.63,154.74 L379.06,154.59 L379.49,154.44 L379.92,154.29 L380.35,154.13 L380.78,153.97 L381.21,153.81 L381.64,153.65 L382.07,153.49 L382.50,153.33 L382.93,153.17 L383.36,153.00 L383.79,152.83 L384.22,152.66 L384.65,152.49 L385.08,152.32 L385.51,152.14 L385.94,151.96 L386.37,151.78 L386.80,151.60 L387.23,151.42 L387.66,151.23 L388.09,151.04 L388.52,150.85 L388.94,150.66 L389.37,150.46 L389.80,150.26 L390.23,150.06 L390.66,149.86 L391.09,149.65 L391.52,149.44 L391.95,149.22 L392.38,149.01 L392.81,148.78 L393.24,148.56 L393.67,148.33 L394.10,148.10 L394.53,147.86 L394.96,147.62 L395.39,147.38 L395.82,147.13 L396.25,146.88 L396.68,146.62 L397.11,146.36 L397.54,146.10 L397.97,145.83 L398.40,145.55 L398.83,145.27 L399.26,144.98 L399.69,144.69 L400.12,144.39 L400.55,144.09 L400.98,143.78 L401.40,143.47 L401.83,143.15 L402.26,142.82 L402.69,142.49 L403.12,142.14 L403.55,141.80 L403.98,141.44 L404.41,141.08 L404.84,140.71 L405.27,140.34 L405.70,139.95 L406.13,139.56 L406.56,139.16 L406.99,138.75 L407.42,138.33 L407.85,137.91 L408.28,137.47 L408.71,137.03 L409.14,136.58 L409.57,136.12 L410.00,135.64 L410.43,135.16 L410.86,134.67 L411.29,134.17 L411.72,133.66 L412.15,133.14 L412.58,132.61 L413.01,132.06 L413.44,131.51 L413.86,130.94 L414.29,130.37 L414.72,129.78 L415.15,129.18 L415.58,128.57 L416.01,127.95 L416.44,127.32 L416.87,126.67 L417.30,126.02 L417.73,125.35 L418.16,124.67 L418.59,123.98 L419.02,123.28 L419.45,122.58 L419.88,121.86 L420.31,121.13 L420.74,120.40 L421.17,119.65 L421.60,118.89 L422.03,118.13 L422.46,117.36 L422.89,116.57 L423.32,115.78 L423.75,114.98 L424.18,114.17 L424.61,113.36 L425.04,112.53 L425.47,111.70 L425.90,110.86 L426.33,110.01 L426.75,109.16 L427.18,108.30 L427.61,107.43 L428.04,106.56 L428.47,105.67 L428.90,104.79 L429.33,103.90 L429.76,103.00 L430.19,102.10 L430.62,101.19 L431.05,100.28 L431.48,99.36 L431.91,98.45 L432.34,97.52 L432.77,96.60 L433.20,95.67 L433.63,94.74 L434.06,93.81 L434.49,92.88 L434.92,91.94 L435.35,91.01 L435.78,90.08 L436.21,89.14 L436.64,88.21 L437.07,87.27 L437.50,86.34 L437.93,85.41 L438.36,84.48 L438.79,83.55 L439.21,82.55 L439.64,81.47 L440.07,80.40 L440.50,79.34 L440.93,78.28 L441.36,77.23 L441.79,76.18 L442.22,75.15 L442.65,74.12 L443.08,73.10 L443.51,72.09 L443.94,71.09 L444.37,70.10 L444.80,69.13 L445.23,68.16 L445.66,67.21 L446.09,66.27 L446.52,65.34 L446.95,64.42 L447.38,63.52 L447.81,62.63 L448.24,61.75 L448.67,60.89 L449.10,60.04 L449.53,59.21 L449.96,58.39 L450.39,57.59 L450.82,56.80 L451.25,56.02 L451.67,55.26 L452.10,54.52 L452.53,53.78 L452.96,53.07 L453.39,52.36 L453.82,51.68 L454.25,51.00 L454.68,50.34 L455.11,49.69 L455.54,49.06 L455.97,48.44 L456.40,47.84 L456.83,47.25 L457.26,46.67 L457.69,46.10 L458.12,45.55 L458.55,45.01 L458.98,44.48 L459.41,43.96 L459.84,43.46 L460.27,42.96 L460.70,42.48 L461.13,42.01 L461.56,41.55 L461.99,41.09 L462.42,40.65 L462.85,40.22 L463.28,39.79 L463.71,39.37 L464.14,38.96 L464.56,38.56 L464.99,38.17 L465.42,37.79 L465.85,37.41 L466.28,37.04 L466.71,36.68 L467.14,36.32 L467.57,35.97 L468.00,35.63 L468.43,35.30 L468.86,34.97 L469.29,34.65 L469.72,34.33 L470.15,34.03 L470.58,33.72 L471.01,33.43 L471.44,33.13 L471.87,32.85 L472.30,32.57 L472.73,32.29 L473.16,32.02 L473.59,31.75 L474.02,31.49 L474.45,31.23 L474.88,30.98 L475.31,30.73 L475.74,30.49 L476.17,30.25 L476.60,30.01 L477.02,29.78 L477.45,29.55 L477.88,29.33 L478.31,29.11 L478.74,28.89 L479.17,28.67 L479.60,28.46 L480.03,28.25 L480.46,28.05 L480.89,27.85 L481.32,27.65 L481.75,27.45 L482.18,27.25 L482.61,27.06 L483.04,26.87 L483.47,26.69 L483.90,26.50 L484.33,26.32 L484.76,26.14 L485.19,25.96 L485.62,25.79 L486.05,25.61 L486.48,25.44 L486.91,25.27 L487.34,25.10 L487.77,24.93 L488.20,24.77 L488.63,24.60 L489.06,24.44 L489.48,24.28 L489.91,24.12 L490.34,23.97 L490.77,23.81 L491.20,23.65 L491.63,23.50 L492.06,23.35 L492.49,23.20 L492.92,23.05 L493.35,22.90 L493.78,22.75 L494.21,22.60 L494.64,22.46 L495.07,22.31 L495.50,22.17 L495.93,22.03 L496.36,21.89 L496.79,21.75 L497.22,21.61 L497.65,21.47 L498.08,21.33 L498.51,21.19 L498.94,21.05 L499.37,20.92 L499.80,20.78 L500.23,20.65 L500.66,20.51 L501.09,20.38 L501.52,20.25 L501.95,20.11 L502.37,19.98 L502.80,19.85 L503.23,19.72 L503.66,19.59 L504.09,19.46 L504.52,19.33 L504.95,19.20 L505.38,19.08 L505.81,18.95 L506.24,18.83 L506.67,18.70 L507.10,18.58 L507.53,18.45 L507.96,18.33 L508.39,18.21 L508.82,18.08 L509.25,17.96 L509.68,17.84 L510.11,17.72 L510.54,17.60 L510.97,17.48 L511.40,17.36 L511.83,17.24 L512.26,17.12 L512.69,17.01 L513.12,16.89 L513.55,16.77 L513.98,16.65 L514.41,16.54 L514.83,16.42 L515.26,16.30 L515.69,16.19 L516.12,16.07 L516.55,15.96 L516.98,15.84 L517.41,15.73 L517.84,15.61 L518.27,15.50 L518.70,15.39 L519.13,15.27 L519.56,15.16 L519.99,15.05 L520.42,14.93 L520.85,14.82 L521.28,14.71 L521.71,14.60 L522.14,14.48 L522.57,14.37 L523.00,14.26 L523.43,14.15 L523.86,14.04 L524.29,13.92 L524.72,13.81 L525.15,13.70 L525.58,13.59 L526.01,13.48 L526.44,13.37 L526.87,13.26 L527.29,13.15 L527.72,13.05 L528.15,12.94 L528.58,12.83 L529.01,12.72 L529.44,12.62 L529.87,12.51 L530.30,12.41 L530.73,12.30 L531.16,12.20 L531.59,12.09 L532.02,11.99 L532.45,11.88 L532.88,11.78 L533.31,11.68 L533.74,11.58 L534.17,11.47 L534.60,11.37 L535.03,11.27 L535.46,11.17 L535.89,11.07 L536.32,10.97 L536.75,10.87 L537.18,10.77 L537.61,10.67 L538.04,10.57 L538.47,10.47 L538.90,10.37 L539.33,10.27 L539.76,10.17 L540.18,10.07 L540.61,9.98 L541.04,9.88 L541.47,9.78 L541.90,9.68 L542.33,9.59 L542.76,9.49 L543.19,9.39 L543.62,9.29 L544.05,9.20 L544.48,9.10 L544.91,9.01 L545.34,8.91 L545.77,8.81 L546.20,8.72 M331.80,169.38 L332.23,169.29 L332.66,169.19 L333.09,169.09 L333.52,169.00 L333.95,168.90 L334.38,168.81 L334.81,168.71 L335.24,168.61 L335.67,168.51 L336.10,168.42 L336.53,168.32 L336.96,168.22 L337.39,168.12 L337.82,168.03 L338.24,167.93 L338.67,167.83 L339.10,167.73 L339.53,167.63 L339.96,167.53 L340.39,167.43 L340.82,167.33 L341.25,167.23 L341.68,167.13 L342.11,167.03 L342.54,166.93 L342.97,166.83 L343.40,166.73 L343.83,166.63 L344.26,166.52 L344.69,166.42 L345.12,166.32 L345.55,166.22 L345.98,166.11 L346.41,166.01 L346.84,165.90 L347.27,165.80 L347.70,165.69 L348.13,165.59 L348.56,165.48 L348.99,165.38 L349.42,165.27 L349.85,165.16 L350.28,165.05 L350.71,164.95 L351.13,164.84 L351.56,164.73 L351.99,164.62 L352.42,164.51 L352.85,164.40 L353.28,164.29 L353.71,164.18 L354.14,164.06 L354.57,163.95 L355.00,163.84 L355.43,163.73 L355.86,163.62 L356.29,163.50 L356.72,163.39 L357.15,163.28 L357.58,163.17 L358.01,163.05 L358.44,162.94 L358.87,162.83 L359.30,162.71 L359.73,162.60 L360.16,162.49 L360.59,162.37 L361.02,162.26 L361.45,162.14 L361.88,162.03 L362.31,161.91 L362.74,161.80 L363.17,161.68 L363.59,161.56 L364.02,161.45 L364.45,161.33 L364.88,161.21 L365.31,161.09 L365.74,160.98 L366.17,160.86 L366.60,160.74 L367.03,160.62 L367.46,160.50 L367.89,160.38 L368.32,160.26 L368.75,160.14 L369.18,160.02 L369.61,159.89 L370.04,159.77 L370.47,159.65 L370.90,159.52 L371.33,159.40 L371.76,159.27 L372.19,159.15 L372.62,159.02 L373.05,158.90 L373.48,158.77 L373.91,158.64 L374.34,158.51 L374.77,158.38 L375.20,158.25 L375.63,158.12 L376.05,157.99 L376.48,157.85 L376.91,157.72 L377.34,157.59 L377.77,157.45 L378.20,157.32 L378.63,157.18 L379.06,157.05 L379.49,156.91 L379.92,156.77 L380.35,156.63 L380.78,156.49 L381.21,156.35 L381.64,156.21 L382.07,156.07 L382.50,155.93 L382.93,155.79 L383.36,155.64 L383.79,155.50 L384.22,155.35 L384.65,155.20 L385.08,155.05 L385.51,154.90 L385.94,154.75 L386.37,154.60 L386.80,154.45 L387.23,154.29 L387.66,154.13 L388.09,153.98 L388.52,153.82 L388.94,153.66 L389.37,153.50 L389.80,153.33 L390.23,153.17 L390.66,153.00 L391.09,152.83 L391.52,152.66 L391.95,152.49 L392.38,152.31 L392.81,152.14 L393.24,151.96 L393.67,151.78 L394.10,151.60 L394.53,151.41 L394.96,151.23 L395.39,151.04 L395.82,150.85 L396.25,150.65 L396.68,150.45 L397.11,150.25 L397.54,150.05 L397.97,149.85 L398.40,149.64 L398.83,149.43 L399.26,149.21 L399.69,148.99 L400.12,148.77 L400.55,148.55 L400.98,148.32 L401.40,148.09 L401.83,147.85 L402.26,147.61 L402.69,147.37 L403.12,147.12 L403.55,146.87 L403.98,146.61 L404.41,146.35 L404.84,146.08 L405.27,145.81 L405.70,145.53 L406.13,145.25 L406.56,144.97 L406.99,144.67 L407.42,144.38 L407.85,144.07 L408.28,143.77 L408.71,143.45 L409.14,143.13 L409.57,142.80 L410.00,142.47 L410.43,142.13 L410.86,141.78 L411.29,141.42 L411.72,141.06 L412.15,140.69 L412.58,140.31 L413.01,139.93 L413.44,139.54 L413.86,139.14 L414.29,138.73 L414.72,138.31 L415.15,137.88 L415.58,137.45 L416.01,137.01 L416.44,136.55 L416.87,136.09 L417.30,135.62 L417.73,135.14 L418.16,134.64 L418.59,134.14 L419.02,133.62 L419.45,133.09 L419.88,132.55 L420.31,132.00 L420.74,131.43 L421.17,130.85 L421.60,130.26 L422.03,129.66 L422.46,129.04 L422.89,128.41 L423.32,127.76 L423.75,127.10 L424.18,126.42 L424.61,125.74 L425.04,125.03 L425.47,124.32 L425.90,123.58 L426.33,122.84 L426.75,122.08 L427.18,121.30 L427.61,120.51 L428.04,119.71 L428.47,118.89 L428.90,118.06 L429.33,117.21 L429.76,116.35 L430.19,115.47 L430.62,114.58 L431.05,113.68 L431.48,112.76 L431.91,111.83 L432.34,110.89 L432.77,109.94 L433.20,108.97 L433.63,108.00 L434.06,107.01 L434.49,106.01 L434.92,105.00 L435.35,103.98 L435.78,102.95 L436.21,101.92 L436.64,100.87 L437.07,99.82 L437.50,98.76 L437.93,97.70 L438.36,96.63 L438.79,95.55 L439.21,94.55 L439.64,93.62 L440.07,92.69 L440.50,91.76 L440.93,90.83 L441.36,89.89 L441.79,88.96 L442.22,88.02 L442.65,87.09 L443.08,86.16 L443.51,85.22 L443.94,84.29 L444.37,83.36 L444.80,82.43 L445.23,81.50 L445.66,80.58 L446.09,79.65 L446.52,78.74 L446.95,77.82 L447.38,76.91 L447.81,76.00 L448.24,75.10 L448.67,74.20 L449.10,73.31 L449.53,72.43 L449.96,71.54 L450.39,70.67 L450.82,69.80 L451.25,68.94 L451.67,68.09 L452.10,67.24 L452.53,66.40 L452.96,65.57 L453.39,64.74 L453.82,63.93 L454.25,63.12 L454.68,62.32 L455.11,61.53 L455.54,60.74 L455.97,59.97 L456.40,59.21 L456.83,58.45 L457.26,57.70 L457.69,56.97 L458.12,56.24 L458.55,55.52 L458.98,54.82 L459.41,54.12 L459.84,53.43 L460.27,52.75 L460.70,52.08 L461.13,51.43 L461.56,50.78 L461.99,50.15 L462.42,49.53 L462.85,48.92 L463.28,48.32 L463.71,47.73 L464.14,47.16 L464.56,46.59 L464.99,46.04 L465.42,45.49 L465.85,44.96 L466.28,44.44 L466.71,43.93 L467.14,43.43 L467.57,42.94 L468.00,42.46 L468.43,41.98 L468.86,41.52 L469.29,41.07 L469.72,40.63 L470.15,40.19 L470.58,39.77 L471.01,39.35 L471.44,38.94 L471.87,38.54 L472.30,38.15 L472.73,37.76 L473.16,37.39 L473.59,37.02 L474.02,36.66 L474.45,36.30 L474.88,35.96 L475.31,35.61 L475.74,35.28 L476.17,34.95 L476.60,34.63 L477.02,34.32 L477.45,34.01 L477.88,33.71 L478.31,33.41 L478.74,33.12 L479.17,32.83 L479.60,32.55 L480.03,32.27 L480.46,32.00 L480.89,31.74 L481.32,31.48 L481.75,31.22 L482.18,30.97 L482.61,30.72 L483.04,30.48 L483.47,30.24 L483.90,30.00 L484.33,29.77 L484.76,29.54 L485.19,29.32 L485.62,29.09 L486.05,28.88 L486.48,28.66 L486.91,28.45 L487.34,28.24 L487.77,28.04 L488.20,27.84 L488.63,27.64 L489.06,27.44 L489.48,27.25 L489.91,27.06 L490.34,26.87 L490.77,26.68 L491.20,26.50 L491.63,26.32 L492.06,26.14 L492.49,25.96 L492.92,25.78 L493.35,25.61 L493.78,25.44 L494.21,25.27 L494.64,25.10 L495.07,24.93 L495.50,24.77 L495.93,24.61 L496.36,24.45 L496.79,24.29 L497.22,24.13 L497.65,23.97 L498.08,23.81 L498.51,23.66 L498.94,23.51 L499.37,23.36 L499.80,23.20 L500.23,23.06 L500.66,22.91 L501.09,22.76 L501.52,22.61 L501.95,22.47 L502.37,22.32 L502.80,22.18 L503.23,22.04 L503.66,21.90 L504.09,21.76 L504.52,21.61 L504.95,21.47 L505.38,21.33 L505.81,21.20 L506.24,21.06 L506.67,20.92 L507.10,20.78 L507.53,20.64 L507.96,20.51 L508.39,20.37 L508.82,20.23 L509.25,20.10 L509.68,19.96 L510.11,19.83 L510.54,19.69 L510.97,19.56 L511.40,19.42 L511.83,19.29 L512.26,19.16 L512.69,19.02 L513.12,18.89 L513.55,18.76 L513.98,18.63 L514.41,18.49 L514.83,18.36 L515.26,18.23 L515.69,18.10 L516.12,17.97 L516.55,17.84 L516.98,17.71 L517.41,17.58 L517.84,17.45 L518.27,17.31 L518.70,17.18 L519.13,17.06 L519.56,16.93 L519.99,16.80 L520.42,16.67 L520.85,16.54 L521.28,16.41 L521.71,16.28 L522.14,16.15 L522.57,16.02 L523.00,15.89 L523.43,15.77 L523.86,15.64 L524.29,15.51 L524.72,15.38 L525.15,15.26 L525.58,15.13 L526.01,15.00 L526.44,14.87 L526.87,14.74 L527.29,14.61 L527.72,14.48 L528.15,14.35 L528.58,14.22 L529.01,14.09 L529.44,13.96 L529.87,13.83 L530.30,13.70 L530.73,13.57 L531.16,13.44 L531.59,13.31 L532.02,13.18 L532.45,13.04 L532.88,12.91 L533.31,12.78 L533.74,12.65 L534.17,12.51 L534.60,12.38 L535.03,12.25 L535.46,12.11 L535.89,11.98 L536.32,11.84 L536.75,11.71 L537.18,11.58 L537.61,11.44 L538.04,11.31 L538.47,11.17 L538.90,11.04 L539.33,10.90 L539.76,10.76 L540.18,10.63 L540.61,10.49 L541.04,10.36 L541.47,10.22 L541.90,10.09 L542.33,9.95 L542.76,9.81 L543.19,9.68 L543.62,9.54 L544.05,9.40 L544.48,9.27 L544.91,9.13 L545.34,8.99 L545.77,8.85 L546.20,8.72" stroke="#0d641b" stroke-width="2.5" fill="none"/>
<rect x="49.00" y="220.50" width="217.00" height="159.50" fill="none" stroke="#c2c2c2" stroke-width="1.1"/>
<path d="M85.17,380.00v-4M85.17,220.50v4M121.33,380.00v-4M121.33,220.50v4M157.50,380.00v-4M157.50,220.50v4M193.67,380.00v-4M193.67,220.50v4M229.83,380.00v-4M229.83,220.50v4M49.00,353.42h4M266.00,353.42h-4M49.00,326.83h4M266.00,326.83h-4M49.00,300.25h4M266.00,300.25h-4M49.00,273.67h4M266.00,273.67h-4M49.00,247.08h4M266.00,247.08h-4" stroke="#c2c2c2" stroke-width="1.1" fill="none"/>
<text x="49.00" y="392.80" font-size="13" text-anchor="middle" font-weight="normal" fill="#111" stroke="#111" stroke-width="0.3" >0</text>
<text x="85.17" y="392.80" font-size="13" text-anchor="middle" font-weight="normal" fill="#111" stroke="#111" stroke-width="0.3" >10</text>
<text x="121.33" y="392.80" font-size="13" text-anchor="middle" font-weight="normal" fill="#111" stroke="#111" stroke-width="0.3" >20</text>
<text x="157.50" y="392.80" font-size="13" text-anchor="middle" font-weight="normal" fill="#111" stroke="#111" stroke-width="0.3" >30</text>
<text x="193.67" y="392.80" font-size="13" text-anchor="middle" font-weight="normal" fill="#111" stroke="#111" stroke-width="0.3" >40</text>
<text x="229.83" y="392.80" font-size="13" text-anchor="middle" font-weight="normal" fill="#111" stroke="#111" stroke-width="0.3" >50</text>
<text x="266.00" y="392.80" font-size="13" text-anchor="middle" font-weight="normal" fill="#111" stroke="#111" stroke-width="0.3" >60</text>
<text x="43.00" y="382.20" font-size="13" text-anchor="end" font-weight="normal" fill="#111" stroke="#111" stroke-width="0.3" >0</text>
<text x="43.00" y="355.62" font-size="13" text-anchor="end" font-weight="normal" fill="#111" stroke="#111" stroke-width="0.3" >0.2</text>
<text x="43.00" y="329.03" font-size="13" text-anchor="end" font-weight="normal" fill="#111" stroke="#111" stroke-width="0.3" >0.4</text>
<text x="43.00" y="302.45" font-size="13" text-anchor="end" font-weight="normal" fill="#111" stroke="#111" stroke-width="0.3" >0.6</text>
<text x="43.00" y="275.87" font-size="13" text-anchor="end" font-weight="normal" fill="#111" stroke="#111" stroke-width="0.3" >0.8</text>
<text x="43.00" y="249.28" font-size="13" text-anchor="end" font-weight="normal" fill="#111" stroke="#111" stroke-width="0.3" >1</text>
<text x="43.00" y="222.70" font-size="13" text-anchor="end" font-weight="normal" fill="#111" stroke="#111" stroke-width="0.3" >1.2</text>
<text x="158.00" y="407.50" font-size="14.4" text-anchor="middle" font-weight="bold" fill="#111" stroke="#111" stroke-width="0.3" >H (kOe)</text>
<text x="264.00" y="236.00" font-size="15" text-anchor="end" font-weight="normal" fill="#111" stroke="#111" stroke-width="0.3" >c)</text>
<text transform="translate(12.6,319.2) rotate(-90)" font-size="14" font-weight="bold" fill="#111" stroke="#111" stroke-width="0.3">M/M<tspan font-size="10.5" dy="7.5">max</tspan></text>
<g fill="none" stroke="#f2a4a4" stroke-width="0.9"><circle cx="49.18" cy="379.55" r="3.5"/><circle cx="49.77" cy="377.77" r="3.5"/><circle cx="50.37" cy="375.86" r="3.5"/><circle cx="50.96" cy="373.91" r="3.5"/><circle cx="51.56" cy="371.96" r="3.5"/><circle cx="52.15" cy="370.02" r="3.5"/><circle cx="52.75" cy="368.10" r="3.5"/><circle cx="53.34" cy="366.22" r="3.5"/><circle cx="56.23" cy="357.55" r="3.5"/><circle cx="63.47" cy="339.77" r="3.5"/><circle cx="70.70" cy="326.45" r="3.5"/><circle cx="77.93" cy="316.18" r="3.5"/><circle cx="85.17" cy="307.99" r="3.5"/><circle cx="92.40" cy="301.27" r="3.5"/><circle cx="99.63" cy="295.60" r="3.5"/><circle cx="106.87" cy="290.72" r="3.5"/><circle cx="114.10" cy="286.44" r="3.5"/><circle cx="121.33" cy="282.62" r="3.5"/><circle cx="128.57" cy="279.16" r="3.5"/><circle cx="135.80" cy="275.99" r="3.5"/><circle cx="143.03" cy="273.06" r="3.5"/><circle cx="150.27" cy="270.33" r="3.5"/><circle cx="157.50" cy="267.75" r="3.5"/><circle cx="164.73" cy="265.32" r="3.5"/><circle cx="171.97" cy="263.00" r="3.5"/><circle cx="179.20" cy="260.77" r="3.5"/><circle cx="186.43" cy="258.64" r="3.5"/><circle cx="193.67" cy="256.58" r="3.5"/><circle cx="200.90" cy="254.58" r="3.5"/><circle cx="208.13" cy="252.63" r="3.5"/><circle cx="215.37" cy="250.74" r="3.5"/><circle cx="222.60" cy="248.89" r="3.5"/><circle cx="229.83" cy="247.08" r="3.5"/></g>
<path d="M49.00,380.00 L49.60,378.30 L50.21,376.38 L50.81,374.40 L51.42,372.41 L52.02,370.44 L52.63,368.48 L53.23,366.55 L53.84,364.66 L54.44,362.81 L55.05,360.99 L55.65,359.21 L56.26,357.48 L56.86,355.79 L57.47,354.13 L58.07,352.52 L58.68,350.94 L59.28,349.41 L59.89,347.91 L60.49,346.45 L61.10,345.03 L61.70,343.64 L62.31,342.28 L62.91,340.96 L63.52,339.67 L64.12,338.41 L64.72,337.18 L65.33,335.98 L65.93,334.81 L66.54,333.66 L67.14,332.54 L67.75,331.45 L68.35,330.38 L68.96,329.33 L69.56,328.31 L70.17,327.31 L70.77,326.33 L71.38,325.38 L71.98,324.44 L72.59,323.52 L73.19,322.62 L73.80,321.74 L74.40,320.88 L75.01,320.04 L75.61,319.21 L76.22,318.40 L76.82,317.60 L77.43,316.82 L78.03,316.06 L78.63,315.30 L79.24,314.57 L79.84,313.84 L80.45,313.13 L81.05,312.43 L81.66,311.75 L82.26,311.07 L82.87,310.41 L83.47,309.76 L84.08,309.12 L84.68,308.49 L85.29,307.87 L85.89,307.26 L86.50,306.66 L87.10,306.07 L87.71,305.49 L88.31,304.92 L88.92,304.35 L89.52,303.80 L90.13,303.25 L90.73,302.71 L91.34,302.18 L91.94,301.66 L92.55,301.15 L93.15,300.64 L93.75,300.14 L94.36,299.64 L94.96,299.16 L95.57,298.68 L96.17,298.20 L96.78,297.73 L97.38,297.27 L97.99,296.82 L98.59,296.37 L99.20,295.92 L99.80,295.48 L100.41,295.05 L101.01,294.62 L101.62,294.20 L102.22,293.78 L102.83,293.37 L103.43,292.96 L104.04,292.55 L104.64,292.16 L105.25,291.76 L105.85,291.37 L106.46,290.98 L107.06,290.60 L107.66,290.23 L108.27,289.85 L108.87,289.48 L109.48,289.12 L110.08,288.75 L110.69,288.40 L111.29,288.04 L111.90,287.69 L112.50,287.34 L113.11,287.00 L113.71,286.66 L114.32,286.32 L114.92,285.98 L115.53,285.65 L116.13,285.32 L116.74,285.00 L117.34,284.68 L117.95,284.36 L118.55,284.04 L119.16,283.73 L119.76,283.41 L120.37,283.11 L120.97,282.80 L121.58,282.50 L122.18,282.19 L122.78,281.90 L123.39,281.60 L123.99,281.31 L124.60,281.02 L125.20,280.73 L125.81,280.44 L126.41,280.15 L127.02,279.87 L127.62,279.59 L128.23,279.31 L128.83,279.04 L129.44,278.76 L130.04,278.49 L130.65,278.22 L131.25,277.95 L131.86,277.68 L132.46,277.42 L133.07,277.16 L133.67,276.90 L134.28,276.64 L134.88,276.38 L135.49,276.12 L136.09,275.87 L136.70,275.62 L137.30,275.37 L137.90,275.12 L138.51,274.87 L139.11,274.62 L139.72,274.38 L140.32,274.13 L140.93,273.89 L141.53,273.65 L142.14,273.41 L142.74,273.17 L143.35,272.94 L143.95,272.70 L144.56,272.47 L145.16,272.24 L145.77,272.01 L146.37,271.78 L146.98,271.55 L147.58,271.32 L148.19,271.09 L148.79,270.87 L149.40,270.65 L150.00,270.42 L150.61,270.20 L151.21,269.98 L151.81,269.76 L152.42,269.54 L153.02,269.33 L153.63,269.11 L154.23,268.90 L154.84,268.68 L155.44,268.47 L156.05,268.26 L156.65,268.05 L157.26,267.84 L157.86,267.63 L158.47,267.42 L159.07,267.21 L159.68,267.01 L160.28,266.80 L160.89,266.60 L161.49,266.39 L162.10,266.19 L162.70,265.99 L163.31,265.79 L163.91,265.59 L164.52,265.39 L165.12,265.19 L165.73,264.99 L166.33,264.80 L166.93,264.60 L167.54,264.40 L168.14,264.21 L168.75,264.02 L169.35,263.82 L169.96,263.63 L170.56,263.44 L171.17,263.25 L171.77,263.06 L172.38,262.87 L172.98,262.68 L173.59,262.49 L174.19,262.30 L174.80,262.12 L175.40,261.93 L176.01,261.74 L176.61,261.56 L177.22,261.38 L177.82,261.19 L178.43,261.01 L179.03,260.83 L179.64,260.64 L180.24,260.46 L180.85,260.28 L181.45,260.10 L182.05,259.92 L182.66,259.74 L183.26,259.56 L183.87,259.39 L184.47,259.21 L185.08,259.03 L185.68,258.86 L186.29,258.68 L186.89,258.50 L187.50,258.33 L188.10,258.16 L188.71,257.98 L189.31,257.81 L189.92,257.64 L190.52,257.46 L191.13,257.29 L191.73,257.12 L192.34,256.95 L192.94,256.78 L193.55,256.61 L194.15,256.44 L194.76,256.27 L195.36,256.10 L195.96,255.93 L196.57,255.77 L197.17,255.60 L197.78,255.43 L198.38,255.26 L198.99,255.10 L199.59,254.93 L200.20,254.77 L200.80,254.60 L201.41,254.44 L202.01,254.27 L202.62,254.11 L203.22,253.95 L203.83,253.78 L204.43,253.62 L205.04,253.46 L205.64,253.30 L206.25,253.14 L206.85,252.97 L207.46,252.81 L208.06,252.65 L208.67,252.49 L209.27,252.33 L209.88,252.17 L210.48,252.01 L211.08,251.86 L211.69,251.70 L212.29,251.54 L212.90,251.38 L213.50,251.22 L214.11,251.07 L214.71,250.91 L215.32,250.75 L215.92,250.60 L216.53,250.44 L217.13,250.29 L217.74,250.13 L218.34,249.98 L218.95,249.82 L219.55,249.67 L220.16,249.51 L220.76,249.36 L221.37,249.21 L221.97,249.05 L222.58,248.90 L223.18,248.75 L223.79,248.59 L224.39,248.44 L224.99,248.29 L225.60,248.14 L226.20,247.99 L226.81,247.84 L227.41,247.68 L228.02,247.53 L228.62,247.38 L229.23,247.23 L229.83,247.08" stroke="#000" stroke-width="1.9" fill="none"/>
<path d="M49.00,380.00 L49.60,378.42 L50.21,376.62 L50.81,374.77 L51.42,372.90 L52.02,371.05 L52.63,369.21 L53.23,367.41 L53.84,365.64 L54.44,363.90 L55.05,362.21 L55.65,360.55 L56.26,358.94 L56.86,357.37 L57.47,355.83 L58.07,354.34 L58.68,352.89 L59.28,351.47 L59.89,350.09 L60.49,348.75 L61.10,347.45 L61.70,346.18 L62.31,344.94 L62.91,343.73 L63.52,342.56 L64.12,341.42 L64.72,340.31 L65.33,339.22 L65.93,338.17 L66.54,337.14 L67.14,336.14 L67.75,335.16 L68.35,334.21 L68.96,333.28 L69.56,332.38 L70.17,331.49 L70.77,330.63 L71.38,329.79 L71.98,328.97 L72.59,328.17 L73.19,327.39 L73.80,326.62 L74.40,325.88 L75.01,325.15 L75.61,324.44 L76.22,323.74 L76.82,323.06 L77.43,322.39 L78.03,321.74 L78.63,321.11 L79.24,320.48 L79.84,319.87 L80.45,319.28 L81.05,318.69 L81.66,318.12 L82.26,317.56 L82.87,317.01 L83.47,316.48 L84.08,315.95 L84.68,315.43 L85.29,314.93 L85.89,314.43 L86.50,313.95 L87.10,313.47 L87.71,313.00 L88.31,312.55 L88.92,312.10 L89.52,311.66 L90.13,311.22 L90.73,310.80 L91.34,310.38 L91.94,309.97 L92.55,309.57 L93.15,309.18 L93.75,308.79 L94.36,308.41 L94.96,308.04 L95.57,307.67 L96.17,307.31 L96.78,306.95 L97.38,306.61 L97.99,306.26 L98.59,305.93 L99.20,305.59 L99.80,305.27 L100.41,304.95 L101.01,304.63 L101.62,304.32 L102.22,304.02 L102.83,303.72 L103.43,303.42 L104.04,303.13 L104.64,302.85 L105.25,302.56 L105.85,302.29 L106.46,302.01 L107.06,301.74 L107.66,301.48 L108.27,301.22 L108.87,300.96 L109.48,300.71 L110.08,300.46 L110.69,300.21 L111.29,299.97 L111.90,299.73 L112.50,299.50 L113.11,299.27 L113.71,299.04 L114.32,298.81 L114.92,298.59 L115.53,298.37 L116.13,298.15 L116.74,297.94 L117.34,297.73 L117.95,297.52 L118.55,297.32 L119.16,297.12 L119.76,296.92 L120.37,296.72 L120.97,296.53 L121.58,296.34 L122.18,296.15 L122.78,295.96 L123.39,295.78 L123.99,295.60 L124.60,295.42 L125.20,295.24 L125.81,295.07 L126.41,294.89 L127.02,294.72 L127.62,294.55 L128.23,294.39 L128.83,294.22 L129.44,294.06 L130.04,293.90 L130.65,293.74 L131.25,293.59 L131.86,293.43 L132.46,293.28 L133.07,293.13 L133.67,292.98 L134.28,292.83 L134.88,292.69 L135.49,292.54 L136.09,292.40 L136.70,292.26 L137.30,292.12 L137.90,291.98 L138.51,291.85 L139.11,291.71 L139.72,291.58 L140.32,291.45 L140.93,291.32 L141.53,291.19 L142.14,291.06 L142.74,290.94 L143.35,290.81 L143.95,290.69 L144.56,290.57 L145.16,290.45 L145.77,290.33 L146.37,290.21 L146.98,290.09 L147.58,289.98 L148.19,289.86 L148.79,289.75 L149.40,289.64 L150.00,289.53 L150.61,289.42 L151.21,289.31 L151.81,289.20 L152.42,289.10 L153.02,288.99 L153.63,288.89 L154.23,288.78 L154.84,288.68 L155.44,288.58 L156.05,288.48 L156.65,288.38 L157.26,288.28 L157.86,288.19 L158.47,288.09 L159.07,287.99 L159.68,287.90 L160.28,287.81 L160.89,287.71 L161.49,287.62 L162.10,287.53 L162.70,287.44 L163.31,287.35 L163.91,287.26 L164.52,287.18 L165.12,287.09 L165.73,287.00 L166.33,286.92 L166.93,286.83 L167.54,286.75 L168.14,286.67 L168.75,286.58 L169.35,286.50 L169.96,286.42 L170.56,286.34 L171.17,286.26 L171.77,286.18 L172.38,286.11 L172.98,286.03 L173.59,285.95 L174.19,285.88 L174.80,285.80 L175.40,285.73 L176.01,285.65 L176.61,285.58 L177.22,285.51 L177.82,285.43 L178.43,285.36 L179.03,285.29 L179.64,285.22 L180.24,285.15 L180.85,285.08 L181.45,285.01 L182.05,284.95 L182.66,284.88 L183.26,284.81 L183.87,284.74 L184.47,284.68 L185.08,284.61 L185.68,284.55 L186.29,284.48 L186.89,284.42 L187.50,284.36 L188.10,284.29 L188.71,284.23 L189.31,284.17 L189.92,284.11 L190.52,284.05 L191.13,283.99 L191.73,283.93 L192.34,283.87 L192.94,283.81 L193.55,283.75 L194.15,283.69 L194.76,283.64 L195.36,283.58 L195.96,283.52 L196.57,283.47 L197.17,283.41 L197.78,283.35 L198.38,283.30 L198.99,283.24 L199.59,283.19 L200.20,283.14 L200.80,283.08 L201.41,283.03 L202.01,282.98 L202.62,282.92 L203.22,282.87 L203.83,282.82 L204.43,282.77 L205.04,282.72 L205.64,282.67 L206.25,282.62 L206.85,282.57 L207.46,282.52 L208.06,282.47 L208.67,282.42 L209.27,282.37 L209.88,282.33 L210.48,282.28 L211.08,282.23 L211.69,282.18 L212.29,282.14 L212.90,282.09 L213.50,282.04 L214.11,282.00 L214.71,281.95 L215.32,281.91 L215.92,281.86 L216.53,281.82 L217.13,281.77 L217.74,281.73 L218.34,281.69 L218.95,281.64 L219.55,281.60 L220.16,281.56 L220.76,281.52 L221.37,281.47 L221.97,281.43 L222.58,281.39 L223.18,281.35 L223.79,281.31 L224.39,281.27 L224.99,281.23 L225.60,281.19 L226.20,281.15 L226.81,281.11 L227.41,281.07 L228.02,281.03 L228.62,280.99 L229.23,280.95 L229.83,280.91" stroke="#000" stroke-width="1.9" fill="none"/>
<path d="M49.00,380.00L229.83,346.77" stroke="#000" stroke-width="2" stroke-dasharray="5,3.5" fill="none"/>
<text x="130.00" y="264.00" font-size="15" text-anchor="start" font-weight="bold" fill="#e20000" stroke="#e20000" stroke-width="0.3" >C/S</text>
<text x="169.50" y="298.40" font-size="15" text-anchor="start" font-weight="normal" fill="#111" stroke="#111" stroke-width="0.3" >SPM</text>
<text x="173.00" y="348.60" font-size="15" text-anchor="start" font-weight="normal" fill="#111" stroke="#111" stroke-width="0.3" >PM</text>
<text x="256.00" y="370.40" font-size="15" text-anchor="end" font-weight="bold" fill="#111" stroke="#111" stroke-width="0.3" >300 K</text>
<rect x="332.00" y="220.20" width="211.50" height="159.80" fill="none" stroke="#c2c2c2" stroke-width="1.1"/>
<path d="M367.25,380.00v-4M367.25,220.20v4M402.50,380.00v-4M402.50,220.20v4M437.75,380.00v-4M437.75,220.20v4M473.00,380.00v-4M473.00,220.20v4M508.25,380.00v-4M508.25,220.20v4M332.00,353.37h4M543.50,353.37h-4M332.00,326.73h4M543.50,326.73h-4M332.00,300.10h4M543.50,300.10h-4M332.00,273.47h4M543.50,273.47h-4M332.00,246.83h4M543.50,246.83h-4" stroke="#c2c2c2" stroke-width="1.1" fill="none"/>
<text x="332.00" y="392.50" font-size="13" text-anchor="middle" font-weight="normal" fill="#111" stroke="#111" stroke-width="0.3" >0</text>
<text x="367.25" y="392.50" font-size="13" text-anchor="middle" font-weight="normal" fill="#111" stroke="#111" stroke-width="0.3" >10</text>
<text x="402.50" y="392.50" font-size="13" text-anchor="middle" font-weight="normal" fill="#111" stroke="#111" stroke-width="0.3" >20</text>
<text x="437.75" y="392.50" font-size="13" text-anchor="middle" font-weight="normal" fill="#111" stroke="#111" stroke-width="0.3" >30</text>
<text x="473.00" y="392.50" font-size="13" text-anchor="middle" font-weight="normal" fill="#111" stroke="#111" stroke-width="0.3" >40</text>
<text x="508.25" y="392.50" font-size="13" text-anchor="middle" font-weight="normal" fill="#111" stroke="#111" stroke-width="0.3" >50</text>
<text x="543.50" y="392.50" font-size="13" text-anchor="middle" font-weight="normal" fill="#111" stroke="#111" stroke-width="0.3" >60</text>
<text x="327.00" y="381.70" font-size="13" text-anchor="end" font-weight="normal" fill="#111" stroke="#111" stroke-width="0.3" >0</text>
<text x="327.00" y="355.07" font-size="13" text-anchor="end" font-weight="normal" fill="#111" stroke="#111" stroke-width="0.3" >0.2</text>
<text x="327.00" y="328.43" font-size="13" text-anchor="end" font-weight="normal" fill="#111" stroke="#111" stroke-width="0.3" >0.4</text>
<text x="327.00" y="301.80" font-size="13" text-anchor="end" font-weight="normal" fill="#111" stroke="#111" stroke-width="0.3" >0.6</text>
<text x="327.00" y="275.17" font-size="13" text-anchor="end" font-weight="normal" fill="#111" stroke="#111" stroke-width="0.3" >0.8</text>
<text x="327.00" y="248.53" font-size="13" text-anchor="end" font-weight="normal" fill="#111" stroke="#111" stroke-width="0.3" >1</text>
<text x="327.00" y="221.90" font-size="13" text-anchor="end" font-weight="normal" fill="#111" stroke="#111" stroke-width="0.3" >1.2</text>
<text x="438.50" y="407.80" font-size="14.4" text-anchor="middle" font-weight="bold" fill="#111" stroke="#111" stroke-width="0.3" >H (kOe)</text>
<text x="543.00" y="234.80" font-size="15" text-anchor="end" font-weight="normal" fill="#111" stroke="#111" stroke-width="0.3" >d)</text>
<text transform="translate(294.5,319.3) rotate(-90)" font-size="14" font-weight="bold" fill="#111" stroke="#111" stroke-width="0.3">M/M<tspan font-size="10.5" dy="7.5">max</tspan></text>
<path d="M332.18,376.31l3.4,3.4l-3.4,3.4l-3.4,-3.4zM333.29,374.45l3.4,3.4l-3.4,3.4l-3.4,-3.4zM334.41,372.61l3.4,3.4l-3.4,3.4l-3.4,-3.4zM335.52,370.79l3.4,3.4l-3.4,3.4l-3.4,-3.4zM339.05,365.27l3.4,3.4l-3.4,3.4l-3.4,-3.4zM346.10,355.61l3.4,3.4l-3.4,3.4l-3.4,-3.4zM353.15,347.57l3.4,3.4l-3.4,3.4l-3.4,-3.4zM360.20,340.53l3.4,3.4l-3.4,3.4l-3.4,-3.4zM367.25,334.04l3.4,3.4l-3.4,3.4l-3.4,-3.4zM374.30,327.90l3.4,3.4l-3.4,3.4l-3.4,-3.4zM381.35,322.02l3.4,3.4l-3.4,3.4l-3.4,-3.4zM388.40,316.35l3.4,3.4l-3.4,3.4l-3.4,-3.4zM395.45,310.87l3.4,3.4l-3.4,3.4l-3.4,-3.4zM402.50,305.57l3.4,3.4l-3.4,3.4l-3.4,-3.4zM409.55,300.43l3.4,3.4l-3.4,3.4l-3.4,-3.4zM416.60,295.46l3.4,3.4l-3.4,3.4l-3.4,-3.4zM423.65,290.65l3.4,3.4l-3.4,3.4l-3.4,-3.4zM430.70,285.99l3.4,3.4l-3.4,3.4l-3.4,-3.4zM437.75,281.48l3.4,3.4l-3.4,3.4l-3.4,-3.4zM444.80,277.12l3.4,3.4l-3.4,3.4l-3.4,-3.4zM451.85,272.90l3.4,3.4l-3.4,3.4l-3.4,-3.4zM458.90,268.82l3.4,3.4l-3.4,3.4l-3.4,-3.4zM465.95,264.86l3.4,3.4l-3.4,3.4l-3.4,-3.4zM473.00,261.02l3.4,3.4l-3.4,3.4l-3.4,-3.4zM480.05,257.30l3.4,3.4l-3.4,3.4l-3.4,-3.4zM487.10,253.69l3.4,3.4l-3.4,3.4l-3.4,-3.4zM494.15,250.18l3.4,3.4l-3.4,3.4l-3.4,-3.4zM501.20,246.76l3.4,3.4l-3.4,3.4l-3.4,-3.4zM508.25,243.43l3.4,3.4l-3.4,3.4l-3.4,-3.4z" fill="none" stroke="#a6cca6" stroke-width="0.9"/>
<path d="M332.00,380.00 L332.59,379.02 L333.18,378.04 L333.77,377.07 L334.36,376.10 L334.95,375.13 L335.54,374.17 L336.13,373.23 L336.72,372.29 L337.31,371.36 L337.89,370.44 L338.48,369.53 L339.07,368.64 L339.66,367.76 L340.25,366.89 L340.84,366.03 L341.43,365.19 L342.02,364.37 L342.61,363.55 L343.20,362.75 L343.79,361.97 L344.38,361.19 L344.97,360.43 L345.56,359.68 L346.15,358.95 L346.74,358.22 L347.33,357.51 L347.92,356.81 L348.51,356.12 L349.09,355.43 L349.68,354.76 L350.27,354.10 L350.86,353.44 L351.45,352.79 L352.04,352.15 L352.63,351.52 L353.22,350.90 L353.81,350.28 L354.40,349.67 L354.99,349.06 L355.58,348.46 L356.17,347.87 L356.76,347.28 L357.35,346.69 L357.94,346.11 L358.53,345.54 L359.12,344.97 L359.70,344.40 L360.29,343.84 L360.88,343.28 L361.47,342.72 L362.06,342.17 L362.65,341.62 L363.24,341.07 L363.83,340.53 L364.42,339.99 L365.01,339.46 L365.60,338.92 L366.19,338.39 L366.78,337.86 L367.37,337.33 L367.96,336.81 L368.55,336.29 L369.14,335.77 L369.73,335.25 L370.32,334.74 L370.90,334.22 L371.49,333.71 L372.08,333.20 L372.67,332.69 L373.26,332.19 L373.85,331.69 L374.44,331.18 L375.03,330.68 L375.62,330.18 L376.21,329.69 L376.80,329.19 L377.39,328.70 L377.98,328.21 L378.57,327.72 L379.16,327.23 L379.75,326.74 L380.34,326.26 L380.93,325.77 L381.52,325.29 L382.10,324.81 L382.69,324.33 L383.28,323.85 L383.87,323.37 L384.46,322.90 L385.05,322.42 L385.64,321.95 L386.23,321.48 L386.82,321.01 L387.41,320.54 L388.00,320.07 L388.59,319.61 L389.18,319.14 L389.77,318.68 L390.36,318.21 L390.95,317.75 L391.54,317.29 L392.13,316.83 L392.71,316.38 L393.30,315.92 L393.89,315.47 L394.48,315.01 L395.07,314.56 L395.66,314.11 L396.25,313.66 L396.84,313.21 L397.43,312.76 L398.02,312.32 L398.61,311.87 L399.20,311.43 L399.79,310.99 L400.38,310.55 L400.97,310.11 L401.56,309.67 L402.15,309.23 L402.74,308.79 L403.33,308.36 L403.91,307.92 L404.50,307.49 L405.09,307.06 L405.68,306.63 L406.27,306.20 L406.86,305.77 L407.45,305.34 L408.04,304.92 L408.63,304.49 L409.22,304.07 L409.81,303.65 L410.40,303.22 L410.99,302.80 L411.58,302.38 L412.17,301.97 L412.76,301.55 L413.35,301.13 L413.94,300.72 L414.53,300.31 L415.11,299.89 L415.70,299.48 L416.29,299.07 L416.88,298.66 L417.47,298.26 L418.06,297.85 L418.65,297.44 L419.24,297.04 L419.83,296.63 L420.42,296.23 L421.01,295.83 L421.60,295.43 L422.19,295.03 L422.78,294.63 L423.37,294.24 L423.96,293.84 L424.55,293.45 L425.14,293.05 L425.72,292.66 L426.31,292.27 L426.90,291.88 L427.49,291.49 L428.08,291.10 L428.67,290.71 L429.26,290.33 L429.85,289.94 L430.44,289.56 L431.03,289.18 L431.62,288.79 L432.21,288.41 L432.80,288.03 L433.39,287.66 L433.98,287.28 L434.57,286.90 L435.16,286.53 L435.75,286.15 L436.34,285.78 L436.92,285.40 L437.51,285.03 L438.10,284.66 L438.69,284.29 L439.28,283.92 L439.87,283.56 L440.46,283.19 L441.05,282.83 L441.64,282.46 L442.23,282.10 L442.82,281.74 L443.41,281.37 L444.00,281.01 L444.59,280.65 L445.18,280.30 L445.77,279.94 L446.36,279.58 L446.95,279.23 L447.54,278.87 L448.12,278.52 L448.71,278.16 L449.30,277.81 L449.89,277.46 L450.48,277.11 L451.07,276.76 L451.66,276.42 L452.25,276.07 L452.84,275.72 L453.43,275.38 L454.02,275.03 L454.61,274.69 L455.20,274.35 L455.79,274.01 L456.38,273.67 L456.97,273.33 L457.56,272.99 L458.15,272.65 L458.73,272.31 L459.32,271.98 L459.91,271.64 L460.50,271.31 L461.09,270.97 L461.68,270.64 L462.27,270.31 L462.86,269.98 L463.45,269.65 L464.04,269.32 L464.63,268.99 L465.22,268.67 L465.81,268.34 L466.40,268.01 L466.99,267.69 L467.58,267.36 L468.17,267.04 L468.76,266.72 L469.35,266.40 L469.93,266.08 L470.52,265.76 L471.11,265.44 L471.70,265.12 L472.29,264.80 L472.88,264.49 L473.47,264.17 L474.06,263.86 L474.65,263.54 L475.24,263.23 L475.83,262.92 L476.42,262.61 L477.01,262.29 L477.60,261.98 L478.19,261.67 L478.78,261.37 L479.37,261.06 L479.96,260.75 L480.55,260.44 L481.13,260.14 L481.72,259.83 L482.31,259.53 L482.90,259.23 L483.49,258.92 L484.08,258.62 L484.67,258.32 L485.26,258.02 L485.85,257.72 L486.44,257.42 L487.03,257.12 L487.62,256.83 L488.21,256.53 L488.80,256.23 L489.39,255.94 L489.98,255.64 L490.57,255.35 L491.16,255.06 L491.74,254.76 L492.33,254.47 L492.92,254.18 L493.51,253.89 L494.10,253.60 L494.69,253.31 L495.28,253.02 L495.87,252.73 L496.46,252.45 L497.05,252.16 L497.64,251.87 L498.23,251.59 L498.82,251.30 L499.41,251.02 L500.00,250.74 L500.59,250.45 L501.18,250.17 L501.77,249.89 L502.36,249.61 L502.94,249.33 L503.53,249.05 L504.12,248.77 L504.71,248.49 L505.30,248.21 L505.89,247.94 L506.48,247.66 L507.07,247.38 L507.66,247.11 L508.25,246.83" stroke="#000" stroke-width="2.1" fill="none"/>
<path d="M332.00,380.00 L332.59,379.18 L333.18,378.36 L333.77,377.55 L334.36,376.74 L334.95,375.93 L335.54,375.14 L336.13,374.35 L336.72,373.57 L337.31,372.80 L337.89,372.04 L338.48,371.29 L339.07,370.56 L339.66,369.84 L340.25,369.13 L340.84,368.44 L341.43,367.76 L342.02,367.09 L342.61,366.44 L343.20,365.80 L343.79,365.17 L344.38,364.56 L344.97,363.96 L345.56,363.37 L346.15,362.80 L346.74,362.23 L347.33,361.68 L347.92,361.14 L348.51,360.60 L349.09,360.08 L349.68,359.57 L350.27,359.07 L350.86,358.57 L351.45,358.08 L352.04,357.60 L352.63,357.13 L353.22,356.67 L353.81,356.21 L354.40,355.76 L354.99,355.31 L355.58,354.87 L356.17,354.44 L356.76,354.01 L357.35,353.59 L357.94,353.17 L358.53,352.75 L359.12,352.34 L359.70,351.93 L360.29,351.53 L360.88,351.13 L361.47,350.74 L362.06,350.35 L362.65,349.96 L363.24,349.57 L363.83,349.19 L364.42,348.81 L365.01,348.43 L365.60,348.06 L366.19,347.69 L366.78,347.32 L367.37,346.95 L367.96,346.59 L368.55,346.23 L369.14,345.87 L369.73,345.51 L370.32,345.16 L370.90,344.80 L371.49,344.45 L372.08,344.10 L372.67,343.76 L373.26,343.41 L373.85,343.07 L374.44,342.73 L375.03,342.39 L375.62,342.05 L376.21,341.71 L376.80,341.38 L377.39,341.05 L377.98,340.71 L378.57,340.38 L379.16,340.06 L379.75,339.73 L380.34,339.40 L380.93,339.08 L381.52,338.76 L382.10,338.44 L382.69,338.12 L383.28,337.80 L383.87,337.48 L384.46,337.17 L385.05,336.85 L385.64,336.54 L386.23,336.23 L386.82,335.92 L387.41,335.61 L388.00,335.30 L388.59,335.00 L389.18,334.69 L389.77,334.39 L390.36,334.09 L390.95,333.79 L391.54,333.49 L392.13,333.19 L392.71,332.89 L393.30,332.60 L393.89,332.30 L394.48,332.01 L395.07,331.72 L395.66,331.43 L396.25,331.14 L396.84,330.85 L397.43,330.56 L398.02,330.28 L398.61,329.99 L399.20,329.71 L399.79,329.43 L400.38,329.14 L400.97,328.87 L401.56,328.59 L402.15,328.31 L402.74,328.03 L403.33,327.76 L403.91,327.48 L404.50,327.21 L405.09,326.94 L405.68,326.67 L406.27,326.40 L406.86,326.13 L407.45,325.87 L408.04,325.60 L408.63,325.34 L409.22,325.07 L409.81,324.81 L410.40,324.55 L410.99,324.29 L411.58,324.03 L412.17,323.77 L412.76,323.52 L413.35,323.26 L413.94,323.01 L414.53,322.75 L415.11,322.50 L415.70,322.25 L416.29,322.00 L416.88,321.75 L417.47,321.50 L418.06,321.26 L418.65,321.01 L419.24,320.77 L419.83,320.52 L420.42,320.28 L421.01,320.04 L421.60,319.80 L422.19,319.56 L422.78,319.33 L423.37,319.09 L423.96,318.85 L424.55,318.62 L425.14,318.39 L425.72,318.15 L426.31,317.92 L426.90,317.69 L427.49,317.46 L428.08,317.24 L428.67,317.01 L429.26,316.78 L429.85,316.56 L430.44,316.33 L431.03,316.11 L431.62,315.89 L432.21,315.67 L432.80,315.45 L433.39,315.23 L433.98,315.02 L434.57,314.80 L435.16,314.58 L435.75,314.37 L436.34,314.16 L436.92,313.94 L437.51,313.73 L438.10,313.52 L438.69,313.31 L439.28,313.11 L439.87,312.90 L440.46,312.69 L441.05,312.49 L441.64,312.28 L442.23,312.08 L442.82,311.88 L443.41,311.68 L444.00,311.48 L444.59,311.28 L445.18,311.08 L445.77,310.88 L446.36,310.69 L446.95,310.49 L447.54,310.30 L448.12,310.10 L448.71,309.91 L449.30,309.72 L449.89,309.53 L450.48,309.34 L451.07,309.15 L451.66,308.96 L452.25,308.78 L452.84,308.59 L453.43,308.41 L454.02,308.22 L454.61,308.04 L455.20,307.86 L455.79,307.68 L456.38,307.50 L456.97,307.32 L457.56,307.14 L458.15,306.96 L458.73,306.78 L459.32,306.61 L459.91,306.43 L460.50,306.26 L461.09,306.09 L461.68,305.92 L462.27,305.74 L462.86,305.57 L463.45,305.40 L464.04,305.24 L464.63,305.07 L465.22,304.90 L465.81,304.73 L466.40,304.57 L466.99,304.41 L467.58,304.24 L468.17,304.08 L468.76,303.92 L469.35,303.76 L469.93,303.60 L470.52,303.44 L471.11,303.28 L471.70,303.12 L472.29,302.96 L472.88,302.81 L473.47,302.65 L474.06,302.50 L474.65,302.34 L475.24,302.19 L475.83,302.04 L476.42,301.89 L477.01,301.74 L477.60,301.59 L478.19,301.44 L478.78,301.29 L479.37,301.14 L479.96,301.00 L480.55,300.85 L481.13,300.70 L481.72,300.56 L482.31,300.42 L482.90,300.27 L483.49,300.13 L484.08,299.99 L484.67,299.85 L485.26,299.71 L485.85,299.57 L486.44,299.43 L487.03,299.29 L487.62,299.15 L488.21,299.02 L488.80,298.88 L489.39,298.75 L489.98,298.61 L490.57,298.48 L491.16,298.35 L491.74,298.21 L492.33,298.08 L492.92,297.95 L493.51,297.82 L494.10,297.69 L494.69,297.56 L495.28,297.43 L495.87,297.31 L496.46,297.18 L497.05,297.05 L497.64,296.93 L498.23,296.80 L498.82,296.68 L499.41,296.55 L500.00,296.43 L500.59,296.31 L501.18,296.19 L501.77,296.07 L502.36,295.95 L502.94,295.83 L503.53,295.71 L504.12,295.59 L504.71,295.47 L505.30,295.35 L505.89,295.24 L506.48,295.12 L507.07,295.00 L507.66,294.89 L508.25,294.77" stroke="#000" stroke-width="2.1" fill="none"/>
<path d="M332.00,380.00L508.25,332.06" stroke="#000" stroke-width="2" stroke-dasharray="5,3.5" fill="none"/>
<text x="517.50" y="249.20" font-size="15" text-anchor="start" font-weight="bold" fill="#0d641b" stroke="#0d641b" stroke-width="0.3" >H</text>
<rect x="346.00" y="226.50" width="77.20" height="56.30" fill="#fff"/>
<rect x="349.00" y="227.50" width="71.20" height="54.30" fill="none" stroke="#c2c2c2" stroke-width="0.9"/>
<path d="M363.24,281.80v-2M363.24,227.50v2M377.48,281.80v-2M377.48,227.50v2M391.72,281.80v-2M391.72,227.50v2M405.96,281.80v-2M405.96,227.50v2M349.00,272.75h2M420.20,272.75h-2M349.00,263.70h2M420.20,263.70h-2M349.00,254.65h2M420.20,254.65h-2M349.00,245.60h2M420.20,245.60h-2M349.00,236.55h2M420.20,236.55h-2" stroke="#c2c2c2" stroke-width="0.9" fill="none"/>
<text x="347.00" y="228.00" font-size="8.5" text-anchor="end" font-weight="normal" fill="#111" stroke="#111" stroke-width="0.3" >6</text>
<text x="347.00" y="283.30" font-size="8" text-anchor="end" font-weight="normal" fill="#111" stroke="#111" stroke-width="0.3" >0</text>
<text x="349.00" y="289.30" font-size="8" text-anchor="middle" font-weight="normal" fill="#111" stroke="#111" stroke-width="0.3" >0</text>
<text x="420.20" y="289.30" font-size="8" text-anchor="middle" font-weight="normal" fill="#111" stroke="#111" stroke-width="0.3" >50</text>
<text x="385.00" y="294.00" font-size="8" text-anchor="middle" font-weight="bold" fill="#111" stroke="#111" stroke-width="0.3" >T (K)</text>
<text transform="translate(341.8,268.3) rotate(-90)" font-size="8" font-weight="bold" fill="#111" stroke="#111" stroke-width="0.25">H (kOe)</text>
<text x="378.8" y="254" font-size="7.5" font-weight="bold" fill="#111" stroke="#111" stroke-width="0.25">H<tspan font-size="6.5" dy="4.6">c</tspan></text>
<text x="354.5" y="270.8" font-size="7.5" font-weight="bold" fill="#111" stroke="#111" stroke-width="0.25">H<tspan font-size="6.2" dy="4.6">Eff</tspan></text>
<path d="M356.12,233.11 L363.24,254.92 L370.36,270.40 L377.48,278.72 L384.60,281.80 L391.72,281.80 L398.84,281.80 L405.96,281.80" stroke="#7fb07f" stroke-width="0.7" fill="none"/>
<path d="M356.12,251.30 L363.24,249.58 L370.36,251.66 L377.48,255.74 L384.60,262.16 L391.72,268.41 L398.84,273.29 L405.96,277.00" stroke="#7fb07f" stroke-width="0.7" fill="none"/>
<g fill="#0d641b"><rect x="354.22" y="231.21" width="3.8" height="3.8"/><rect x="361.34" y="253.02" width="3.8" height="3.8"/><rect x="368.46" y="268.50" width="3.8" height="3.8"/><rect x="375.58" y="276.82" width="3.8" height="3.8"/><rect x="382.70" y="279.90" width="3.8" height="3.8"/><rect x="389.82" y="279.90" width="3.8" height="3.8"/><rect x="396.94" y="279.90" width="3.8" height="3.8"/><rect x="404.06" y="279.90" width="3.8" height="3.8"/><path d="M356.12,249.10l2,3.6h-4zM363.24,247.38l2,3.6h-4zM370.36,249.46l2,3.6h-4zM377.48,253.54l2,3.6h-4zM384.60,259.96l2,3.6h-4zM391.72,266.21l2,3.6h-4zM398.84,271.09l2,3.6h-4zM405.96,274.80l2,3.6h-4z"/></g>
</svg></body></html>
